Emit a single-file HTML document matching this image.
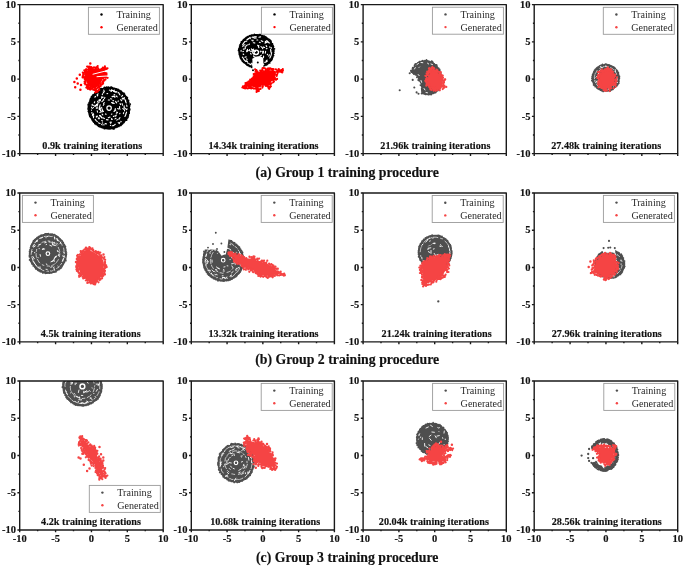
<!DOCTYPE html>
<html><head><meta charset="utf-8"><style>
html,body{margin:0;padding:0;background:#fff;}
svg{display:block;will-change:transform;}
.tk{font:bold 10.5px "Liberation Serif",serif;fill:#111;stroke:#111;stroke-width:0.15px;}
.lb{font:bold 10.2px "Liberation Serif",serif;fill:#111;stroke:#111;stroke-width:0.15px;}
.lg{font:10.1px "Liberation Serif",serif;fill:#2a2a2a;}
.cap{font:bold 13.8px "Liberation Serif",serif;fill:#111;stroke:#111;stroke-width:0.15px;}
</style></head><body>
<svg width="685" height="567" viewBox="0 0 685 567">
<defs><clipPath id="c00"><rect x="19.7" y="4.6" width="143.5" height="149"/></clipPath><clipPath id="c01"><rect x="191.3" y="4.6" width="143.1" height="149"/></clipPath><clipPath id="c02"><rect x="363.1" y="4.6" width="143.2" height="149"/></clipPath><clipPath id="c03"><rect x="534.2" y="4.6" width="143.5" height="149"/></clipPath><clipPath id="c10"><rect x="19.7" y="193" width="143.5" height="148.9"/></clipPath><clipPath id="c11"><rect x="191.3" y="193" width="143.1" height="148.9"/></clipPath><clipPath id="c12"><rect x="363.1" y="193" width="143.2" height="148.9"/></clipPath><clipPath id="c13"><rect x="534.2" y="193" width="143.5" height="148.9"/></clipPath><clipPath id="c20"><rect x="19.7" y="381" width="143.5" height="149"/></clipPath><clipPath id="c21"><rect x="191.3" y="381" width="143.1" height="149"/></clipPath><clipPath id="c22"><rect x="363.1" y="381" width="143.2" height="149"/></clipPath><clipPath id="c23"><rect x="534.2" y="381" width="143.5" height="149"/></clipPath></defs>
<rect width="685" height="567" fill="#fff"/>
<ellipse cx="109.1" cy="108.1" rx="20.6" ry="20.7" fill="#000" clip-path="url(#c00)"/>
<path d="M129.2 108.1h0M129.7 108.9h0M129.8 109.7h0M129.3 110.4h0M129 111.1h0M129.2 111.9h0M129.2 112.7h0M129.2 113.5h0M128.3 114.1h0M128.1 114.8h0M128.4 115.7h0M128 116.4h0M128 117.2h0M127.5 117.9h0M126.8 118.4h0M126.4 119h0M126.7 120.1h0M125.5 120.3h0M124.9 120.8h0M124.4 121.3h0M124.2 122.1h0M123.6 122.7h0M123 123.1h0M122.5 123.7h0M121.9 124.3h0M121.4 124.8h0M120.8 125.4h0M120 125.6h0M119.1 125.5h0M118.8 126.5h0M117.8 126.3h0M117.3 126.9h0M116.4 126.9h0M115.9 127.5h0M115.1 127.6h0M114.4 128.1h0M113.9 129.1h0M112.9 128.3h0M112.2 128.7h0M111.4 128.2h0M110.6 128.6h0M109.9 128.9h0M109.1 128.7h0M108.3 128.8h0M107.6 128.7h0M106.8 128.3h0M106 128.6h0M105.3 128.1h0M104.4 128.7h0M103.8 127.9h0M103 128h0M102.3 127.5h0M101.5 127.5h0M101 126.8h0M100.1 126.9h0M99.5 126.3h0M98.7 126.3h0M98.1 125.7h0M97.5 125.2h0M97.1 124.5h0M96.2 124.4h0M95.6 123.8h0M94.8 123.6h0M94.7 122.6h0M93.9 122.2h0M93.4 121.6h0M93 121h0M92.6 120.4h0M92.1 119.7h0M91.9 119h0M91.6 118.2h0M91.1 117.7h0M90.5 117.1h0M89.9 116.5h0M89.7 115.7h0M89.5 115h0M89.3 114.2h0M89.1 113.5h0M89.1 112.7h0M88.7 112h0M88.3 111.2h0M88.8 110.4h0M88.9 109.6h0M88 108.9h0M88.5 108.1h0M88.3 107.3h0M88.4 106.5h0M89.1 105.8h0M88.1 104.9h0M88.4 104.2h0M89.1 103.5h0M89.1 102.7h0M89.5 102h0M90 101.4h0M90 100.6h0M90.2 99.8h0M90.3 99h0M90.8 98.4h0M91.3 97.8h0M91.4 96.9h0M92.3 96.6h0M92.4 95.7h0M92.8 95h0M93.6 94.7h0M94.5 94.5h0M94.8 93.7h0M95.1 92.9h0M95.6 92.4h0M96 91.6h0M97.1 91.8h0M97.5 91.1h0M98.1 90.5h0M98.9 90.3h0M99.8 90.5h0M100.1 89.3h0M100.6 88.6h0M101.5 88.6h0M102.4 88.9h0M103.1 88.5h0M103.8 88.1h0M104.4 87.3h0M105.3 87.7h0M106 87.7h0M106.8 87.2h0M107.6 87.6h0M108.3 87h0M109.1 87.7h0M109.9 87.7h0M110.6 87.3h0M111.4 87.2h0M112.2 87.5h0M112.9 87.8h0M113.5 88.5h0M114.4 88.4h0M115.1 88.6h0M115.8 88.8h0M116.7 88.8h0M117.3 89.3h0M118.1 89.3h0M118.7 89.9h0M119.3 90.3h0M120 90.6h0M120.7 91h0M121.4 91.3h0M121.8 92.1h0M122.4 92.5h0M122.8 93.3h0M123.9 93.2h0M124.4 93.8h0M124.6 94.7h0M125 95.3h0M125.3 96.1h0M126.1 96.5h0M126.5 97.1h0M127.4 97.5h0M127.3 98.4h0M127.4 99.3h0M127.2 100.2h0M128.6 100.4h0M128.5 101.3h0M128.2 102.2h0M129 102.8h0M128.6 103.6h0M130.3 104.1h0M129.7 105h0M129.6 105.8h0M129.5 106.6h0M129 107.4h0" stroke="#000" stroke-width="1.7" stroke-linecap="round" fill="none" clip-path="url(#c00)"/>
<path d="M114.4 90.1L113.4 91.5M93.7 116.3L93.4 117.8M97.4 102L98 101M122.6 95.3L121.7 96.3M116.4 96L116.7 96M111.2 122.2L110.7 123.4M119.6 108.7L120.1 109.1M115.9 102.1L116.4 102.6M101.2 111.8L99.8 112.4M102.7 122.9L102.3 123.1M126 102.2L126.2 102.9M111.6 118.6L111.6 119.5M118.4 92.7L119.4 93.4M126.6 112.1L126.2 113.4M112 96.6L112.3 96.6M115.6 116L115.7 116.3M114.5 91.4L115.9 92.4M117.7 108.5L118.5 109M99.7 106.6L100.1 104.9M118.2 122.7L119.4 123.7M95.8 120.1L95.2 119.4M91.5 107.2L92.3 108.5M112.9 102.8L114.3 103.4M96.1 105.8L96.5 104.3M119.4 94.3L120 94.8M108.1 119.9L106.4 119.6M125.9 114.5L125.3 115.8M100.5 110.6L100.1 108.9M102.5 93.8L102.3 94.7M92.6 114.2L92.4 115.3M116.3 96.3L117.2 96.9M99 100.2L99.4 99.7M94.8 106.5L94.9 105.4M99 118.8L98.2 118M97.3 105.7L97.8 103.9M122.1 103.6L122.5 105.2M102.1 110.4L102.2 111.9M103.5 111.4L103.3 111.2M115.3 124.3L114.8 124.5M102.1 118L101.2 117.3M101.6 107.9L101.7 107.3M98.7 117.8L99.5 118.3M92.2 104.7L92.3 104.2M111.3 122L109.9 122.2M101.6 124.3L102.2 124.8M120.8 121.3L121.2 121.7M125.6 101.1L126 102.1M101.9 101.7L103 100.7M114.8 96.2L114.4 96.9M91.5 110.2L91.5 110M122.6 98.3L123.2 99.1M111.6 102.5L113.1 103.5M115.8 110L114.5 111.2M112.4 119.3L111.6 119.5M97.6 112.2L97.2 110.9M114.3 116L113.4 116.5M103.8 90.1L104.3 91.6M124.1 105.7L124.2 107.2M112.9 90.2L111.5 90.6M111.5 89.8L110.6 90.9M115.6 101.4L116.7 102.8M104.1 124.9L103.6 124.8M116.7 112L117.5 112.7M99.6 100.6L100.5 99.5M97.1 108.4L97.2 107M99.3 108.5L99.4 106.7M97 94.9L98.1 93.9M126.5 112.3L126 113.9M100.4 108.9L100.3 107.8M95.1 105.3L95.8 106.2M106.4 123.9L105.1 123.6M103.3 105.3L104 104.3M125.8 113.5L125.7 114.2M112.4 96.3L112.8 96.7M126.7 105L126.9 106.5M103.6 103.3L104.3 102.7M117.4 119.6L116.8 120.1M98.7 102.7L99.2 101.9M124 107.3L125.2 108.5M110.5 98.7L111.7 99M104.9 97.4L104.5 98.4M110 117.1L108.3 117.8M121.4 100.3L121.6 100.7M99.2 109.5L99.1 108.7M119.9 113.3L119.7 113.7M110.9 91.1L111.3 91.5M101.9 96.5L101.6 98.3M93.2 116.3L92.9 115.6M114.6 110.6L114 111.5M127 108.8L126.9 109.5M103.2 92L103.8 92.9M103.4 99.4L103.8 100M122.2 98.1L122.9 99.1M92 112.6L91.6 113M112.1 102.5L112 102.7M97.3 121.6L96.7 121.1M117.1 112.7L116.3 113.2M115 91.7L114.7 91.9M108.3 100L109.5 100M123.9 97.9L124.3 98.6M113.2 96.1L113.9 96.4M125.4 115.5L124.9 116.5M98.6 122.7L98.8 122.7M124.6 110.1L124.5 110.9M116 118.3L115 118.9M100.2 116.3L99.5 115.5M107 93.6L107.7 93.5M109.5 90.1L109.4 90.2M111.9 114L111.4 114.2M93.7 114.9L93.1 113.4M125.7 100.6L125.5 101.8M97.6 116.1L96.3 117.2M112.5 125.8L112.2 125.8M95.3 119.6L96 120.4M110.4 125.3L110.5 125.5M94.9 97.2L95.2 96.8M116.4 115L115.4 115.9M123.7 112.6L123.4 113.6M119.9 122.5L119.5 122.7M91.9 105L93.4 105.4M93.4 107.6L93.4 107.4M114.2 125.3L113.2 125.6M112.9 100.6L113.6 100.8M102.8 97.4L103.1 97.2M102.5 110.6L102.1 108.9M126 109.2L126.6 109.7M122.8 108.5L124.2 109.6M101.3 116.6L100.6 115.8M97.5 104L97.7 103.7M120.1 103.5L120.5 104.6M114.6 97.1L115 97.3M97.4 95.8L97.7 95.5M115.3 108.5L115 110.2M98.7 122.9L100 123.5M106.1 114.3L105.4 113.9M100.1 100.8L100.5 100.2M119.6 106.6L119.6 107.7M102.8 114.9L102.1 114.2M95.6 96.4L95.2 96.6M96.7 108.1L96.2 108.1M118.4 92.4L118.2 92.9M104.4 118.6L102.9 117.8M120 117.7L118.8 119M94.3 102.7L94.7 101.7M115.9 91.5L117 92M118.5 101L118 101.3M114.1 94.6L114.9 94.9M124.9 99.6L125.7 101.2M124.4 97.7L123.6 98.5M100.6 116.2L99.9 115.4M119.3 118.8L118.8 119.2M112.9 90.5L113.7 90.8M96.7 116.8L96.3 116.2M120.5 99.7L121.7 100.2M102.6 121L101.7 120.5" stroke="#fff" stroke-width="1.1" stroke-linecap="round" fill="none" clip-path="url(#c00)"/>
<circle cx="109.1" cy="108.1" r="2.2" fill="none" stroke="#fff" stroke-width="1.2" clip-path="url(#c00)"/>
<circle cx="109.1" cy="108.1" r="0.9" fill="#000" clip-path="url(#c00)"/>
<path d="M90 67.7C90.7 67.8 92.3 68.1 93.8 68.3C95.4 68.5 97.6 68.6 99.3 68.7C101 68.8 103.2 69 104.1 69C105 69.1 104.7 68.6 104.7 69C104.6 69.3 103.9 70.3 103.9 71.1C103.9 71.9 104.6 72.9 104.7 73.8C104.9 74.7 105.3 75.6 105 76.5C104.6 77.4 103.3 78.2 102.5 79.4C101.8 80.5 101.1 82.4 100.5 83.4C99.9 84.5 99.6 84.8 98.9 85.6C98.1 86.3 96.4 87.1 95.9 87.9C95.5 88.6 96.7 90.1 96.2 90.2C95.8 90.2 94.4 88.9 93.2 88.3C91.9 87.7 89.8 87.2 89 86.6C88.1 86 88.3 85.9 87.8 84.8C87.3 83.8 86.5 81.5 85.9 80.3C85.2 79 84.1 78.7 84.1 77.4C84.1 76.1 85.1 73.9 85.8 72.6C86.5 71.3 87.6 70.5 88.2 69.7C88.9 68.8 89.4 67.9 89.7 67.6C90 67.2 89.3 67.6 90 67.7Z" fill="#ff0000" clip-path="url(#c00)"/>
<path d="M90.4 67.2h0M91 67.7h0M91.4 67.3h0M91.5 67.4h0M92.4 68h0M93.6 67.5h0M94 67.3h0M95.4 67.5h0M95.9 68.3h0M97.1 66.9h0M97.2 67.7h0M97.4 67.1h0M97.8 68h0M98.2 68.6h0M101.6 68.9h0M102.2 68.6h0M102.9 67.5h0M103.1 68.8h0M103.7 69.4h0M103.8 69.3h0M105.1 68h0M105.2 68.9h0M105.1 69.2h0M105.6 68.1h0M106.5 69h0M105.2 68.3h0M104.5 67.8h0M105.6 69.3h0M105.5 69.3h0M104.4 69.9h0M103.3 71.3h0M104 72.1h0M104.1 73.4h0M105.4 73.2h0M105.1 73.4h0M104.8 73.9h0M106.5 73.3h0M106.5 74.7h0M106 74.7h0M106.4 75.6h0M105.1 76.3h0M105.2 76.7h0M106 77.5h0M105.7 77h0M104.3 76.6h0M104.8 76.9h0M103.3 78h0M104.9 79.6h0M103.9 80h0M103.5 80.6h0M103.1 81.2h0M103 81.8h0M102.7 82.2h0M102.2 82.4h0M102.1 84.3h0M100.6 84.5h0M100.4 83.9h0M101 84.8h0M100.7 85.9h0M99.1 86.1h0M98.5 85.4h0M97.8 87h0M97.5 87.8h0M96.5 88.5h0M96.2 89.3h0M95.6 90.3h0M97.1 90.9h0M96.6 91.5h0M96.5 92h0M96.6 91.7h0M96.6 91.2h0M96.8 90.8h0M96.4 90.4h0M96.6 90.8h0M95.9 89.2h0M95.6 89h0M94.3 89.9h0M93.8 89.5h0M93.2 89.7h0M92.5 88h0M92.6 87.7h0M91.2 88.9h0M90.6 89.4h0M90.6 87.8h0M89.7 88.1h0M88.9 88.8h0M88.8 88h0M88.5 87.4h0M88.5 87.5h0M88.6 87h0M88 87.3h0M87.3 86.7h0M88.5 86.2h0M87 86h0M87.4 86.2h0M87.2 84.7h0M85.3 84.4h0M85.4 82.8h0M85.7 81.9h0M84.6 81.7h0M85.6 81h0M85.8 79.5h0M84.7 79.1h0M85.4 78.5h0M84.8 77.9h0M84.2 77.6h0M83.4 77.4h0M82.6 77.4h0M84.5 77.3h0M83.6 77h0M82.7 76.3h0M83.1 75.7h0M83.2 74.3h0M85.3 74.5h0M85.6 73.9h0M84.2 72.6h0M85.5 72.9h0M85 72h0M85.6 71.4h0M86 70.3h0M86.6 71.2h0M86 69.4h0M86.9 69.9h0M86.6 69.3h0M88.7 69.1h0M88.7 67.6h0M88 66.7h0M89.8 67.5h0M89.8 67.6h0M89.4 67.9h0M89.7 66.6h0M89.5 66.8h0M89.5 66.9h0M97.7 66.1h0M104.9 66.4h0M107.5 68.3h0M107.6 77.8h0M105.5 79.5h0M104.4 80.4h0M103.3 81.8h0M103.1 83.6h0M99.3 87.9h0M95.3 92.4h0M90.1 89.6h0M87.8 88.8h0M86.3 87.6h0M84.6 83.3h0M82.8 72.6h0M84.3 70.3h0M85.9 69.5h0M87.1 66.6h0" stroke="#ff0000" stroke-width="2.2" stroke-linecap="round" fill="none" clip-path="url(#c00)"/>
<path d="M74.4 82.1h0M77.7 83.6h0M75.2 87.2h0M80.4 89.8h0M79.8 74.8h0M76.8 78.5h0M81 85h0M90.3 63.6h0M97.5 91.5h0M99 90h0" stroke="#ff0000" stroke-width="2.5" stroke-linecap="round" fill="none" clip-path="url(#c00)"/>
<path d="M93 74.2L100 72.4L107.8 70.5M97 76.7L102 76.3L107.8 76" stroke="#fff" stroke-width="1" fill="none" stroke-linecap="round" clip-path="url(#c00)"/>
<ellipse cx="256.4" cy="51.1" rx="17.5" ry="16.5" fill="#000" clip-path="url(#c01)"/>
<path d="M273.9 51.1h0M273.7 51.8h0M273.3 52.5h0M273.9 53.3h0M273.1 53.9h0M273 54.6h0M273.6 55.5h0M273 56.1h0M272.9 56.9h0M272.3 57.4h0M272.3 58.2h0M272.2 59h0M271.7 59.6h0M271.5 60.3h0M270.7 60.8h0M270.2 61.3h0M269.4 61.6h0M269.7 62.9h0M268.5 62.8h0M268.1 63.4h0M267.5 63.9h0M267 64.6h0M266.4 64.9h0M265.3 64.8h0M264.8 65.4h0M264.1 65.7h0M263.3 65.7h0M263 66.9h0M262.1 66.7h0M261.4 67.1h0M260.6 67.1h0M259.9 67.5h0M259.1 67.4h0M258.4 67.7h0M257.6 67.7h0M256.8 67.4h0M256 67.8h0M255.2 67.6h0M254.5 67.4h0M253.8 67h0M253 67h0M252.1 67.4h0M251.4 67.1h0M250.8 66.5h0M250 66.4h0M249.2 66.3h0M248.7 65.6h0M247.9 65.5h0M247.2 65.2h0M246.7 64.6h0M246.1 64.1h0M245.6 63.6h0M245 63.1h0M244.4 62.7h0M243.7 62.3h0M243.2 61.8h0M242.7 61.2h0M242.1 60.7h0M242.2 59.8h0M241.4 59.4h0M241 58.8h0M240.6 58.2h0M240.4 57.5h0M240 56.8h0M240 56.1h0M239.9 55.3h0M239.5 54.7h0M239.2 54h0M239.3 53.3h0M239.1 52.5h0M239.1 51.8h0M239.1 51.1h0M238.5 50.4h0M238.8 49.6h0M238.8 48.9h0M239.3 48.2h0M239.5 47.5h0M239.8 46.8h0M239.6 46h0M240.1 45.4h0M240.1 44.6h0M240.9 44.1h0M240.9 43.4h0M241.4 42.8h0M241.3 41.8h0M242.3 41.6h0M242.6 40.9h0M243.2 40.4h0M243.5 39.7h0M244.3 39.4h0M244.8 38.8h0M245.3 38.3h0M245.9 37.8h0M246.4 37.3h0M247.2 37.1h0M247.8 36.5h0M248.6 36.3h0M249.2 36h0M250 35.7h0M250.8 35.8h0M251.4 35.1h0M252.2 35.1h0M253 35h0M253.7 35h0M254.4 34.4h0M255.3 35.2h0M256 34.8h0M256.8 34.9h0M257.5 34.8h0M258.2 35.4h0M259.1 34.5h0M259.9 34.5h0M260.7 34.7h0M261.3 35.4h0M262 35.6h0M262.7 35.9h0M263.4 36.2h0M264.4 36.1h0M264.9 36.8h0M265.7 36.8h0M266.3 37.4h0M266.6 38.2h0M267.5 38.3h0M267.9 39h0M268.8 39.1h0M269.3 39.7h0M270.1 40h0M270.2 40.9h0M271.1 41.2h0M270.9 42.2h0M271.3 42.8h0M271.6 43.5h0M272.5 43.9h0M272.4 44.8h0M273 45.3h0M273.2 46h0M273.5 46.7h0M273.1 47.5h0M272.9 48.3h0M274.5 48.8h0M273.6 49.7h0M273.8 50.4h0" stroke="#000" stroke-width="1.7" stroke-linecap="round" fill="none" clip-path="url(#c01)"/>
<path d="M256.9 40L257.8 40M262.8 52.4L262.5 53.3M271.7 52.8L271.3 53.7M255.2 54.6L255 54.6M242.8 46.6L243.4 45.3M267.4 41L268.2 41.9M243.1 54L243.7 54.5M267.9 41.3L267.4 41.4M262.5 48.2L262.8 48.8M253.1 40.3L252.8 41M266.1 45.6L266.7 46.6M255.8 50.8L255.5 51.4M251.5 51.1L250.4 51.2M267.5 54.2L267.3 54.8M256.9 64.9L255.1 64.9M245.2 46.3L245.3 48.2M241.1 51.2L241.1 50.4M255.2 57L253.8 56.6M257.5 45.3L258.9 45.8M262.6 63.4L263.8 64.6M253.8 50.5L253.5 51.3M246.8 39.7L247.1 39.8M250.9 64.3L250.5 64.7M267.1 60.2L266 61.2M260.6 36.9L258.9 37.2M247.1 59.4L246.6 58.8M261.4 55.1L261.1 55.5M251.8 40.2L252 40.1M253.8 56L253.5 55.9M252.4 63.7L251.4 63.3M249.4 50.7L249.5 49.6M255.6 36.7L256.2 36.6M247.4 61.5L246.7 60.9M267 48.4L266.3 48.7M263 47.1L264.6 47.5M246.2 56.9L244.9 57.2M243.1 44.1L243.5 43.2M260.7 55.7L259.7 56.4M242.7 44.6L243.7 43M271 55.6L270.2 57.4M255.4 58.7L257.2 58.7M266.8 40.6L265.3 41.8M258.2 65.5L256.5 65.6M251.4 48.8L251.6 49.4M253.9 36.8L255.2 36.7M251.2 64.7L249.4 63.9M265.6 51.4L265.3 53.1M254.6 38.1L256.3 38M254.2 54.1L253.5 53.5M249.5 44L248.8 44.6M266 42.8L265 43.1M243.5 58.9L244.4 60.1M248.2 38.5L247.5 39.7M252.8 51.2L253.2 49.3M248.2 63.3L247.4 62.8M259.1 62.3L258.2 62.5M263.4 47L263.2 47.2M247.3 44.8L246.3 45.8M254.5 42.8L253.3 42.8M269.7 46.7L269.9 47.4M243.4 51.4L242.9 51.6M259.3 42.3L260.2 42.6M245.2 48.8L243.3 49.1M270.2 57.4L269.8 58M254.3 61.6L255.2 61.6M265.5 62.2L264.8 62.4M263.5 51.2L263.2 53.1M257.6 53.7L257.4 53.8M252.4 64.3L252.8 65M263.3 51.3L263 53.1M246.9 50.4L246.6 51.2M271.2 47.5L271.4 48.3M261.2 40.7L262.8 41.6M259 64.6L260.3 65.8M254.6 43L254.8 43.1M244.7 44.9L244.9 44.6M243.5 43.3L244.6 41.9M252.3 49.9L252.4 49.6M250.2 64.3L249.2 63.8M271 50.5L270.9 52.3M260.4 51.1L260.3 51.9M263.6 56L263.5 57.8M253.2 37.8L253.8 37.7M255.8 61.4L254.8 61.4M253.2 64.9L252.9 65.5M254.2 61.6L253.6 61.5M250.1 37.2L250.3 38.6M267.2 41.9L265.4 42.9M251.1 54.2L250.6 53.2M247.3 51.2L247.5 49.2M253.7 54.1L252.8 53.1M270.6 49.3L270.7 51.1M269.3 54.8L268.8 56.2M248.2 50.6L246.7 51.7M245 41.5L244.8 41.6M253.1 58.7L253 59.2M260.1 57.6L258.6 58.2M262.8 58L262.4 58.4M261 46.5L261.9 47.5M268.1 42.4L269.6 43M245.6 61.4L244.5 60.2M246.9 39.8L247.6 39.2M253.3 49.6L253.7 49.1M254.9 59.7L253.3 59.3M249.4 37.9L248.6 39M251.5 51.2L252.4 51.4M246.6 61.3L246.1 60.8M260.5 63.7L260.3 63.8M245.7 41.2L246.7 41.3M267.2 61.3L266.5 61.9M262 59.7L262.4 60.5M261.1 58L260.8 58.2M271.3 54.5L270.8 56.1M271.3 54.3L271.2 54.7M252.8 52.7L252.6 52.4M258.3 46.3L258.9 47.8M261.7 51.3L262.4 51.3M242.4 57.2L243.4 58.5M252 37.3L252.8 37M271.3 54.4L271.1 55.1" stroke="#fff" stroke-width="1.1" stroke-linecap="round" fill="none" clip-path="url(#c01)"/>
<path d="M252.4 70L252.4 59.6C253 58 254.5 56.8 258.4 56.3C261 56.2 263 57 263.3 59.6L263.5 70Z" fill="#fff" clip-path="url(#c01)"/>
<circle cx="256.3" cy="52.3" r="2.2" fill="none" stroke="#fff" stroke-width="1.3" clip-path="url(#c01)"/>
<path d="M257.8 62.4h0M253 70.2h0M263 68.2h0" stroke="#000" stroke-width="2" stroke-linecap="round" fill="none" clip-path="url(#c01)"/>
<path d="M257 71.7C257.7 71.3 258.7 72 260.4 71.8C262.1 71.5 265.5 70.2 267.5 70C269.5 69.8 270.8 70.1 272.6 70.4C274.4 70.7 276.9 71.5 278.4 71.7C279.8 71.9 281.3 72 281.5 71.6C281.7 71.2 280.3 69.3 279.3 69.6C278.3 69.9 276.1 72 275.4 73.4C274.7 74.8 275.4 76.8 274.9 77.9C274.4 79 273.3 79.1 272.4 80.2C271.5 81.4 269.9 83.7 269.4 84.8C268.9 85.8 269.8 86.6 269.2 86.5C268.6 86.4 267.4 84.1 265.8 84.1C264.3 84.1 261.3 85.7 259.9 86.6C258.4 87.5 258.1 89.5 257.3 89.6C256.5 89.8 256.2 87.9 254.9 87.4C253.6 86.8 251.1 86.7 249.3 86.5C247.4 86.3 244.4 85.8 243.7 86.2C243 86.5 244.2 89.2 244.9 88.7C245.6 88.3 246.9 85.1 248.1 83.6C249.4 82 251 80.8 252.4 79.3C253.8 77.8 255.5 75.8 256.3 74.6C257 73.3 256.3 72.2 257 71.7Z" fill="#ff0000" clip-path="url(#c01)"/>
<path d="M256 70.2h0M256.4 70.1h0M256.7 71h0M257 71.6h0M257.4 71.4h0M260.2 70.7h0M260.8 71.8h0M261.6 71h0M262 70.5h0M262.3 69.7h0M263.5 71.3h0M265.2 68.6h0M265.7 70.5h0M266.2 69.5h0M267.4 69.1h0M267.7 68.7h0M268 70h0M269 68.3h0M269.7 69.1h0M270.1 68.4h0M271.3 68.8h0M272.3 69.2h0M272.4 70.3h0M272.8 69.7h0M273.5 69.2h0M273.7 71.5h0M275.8 69.3h0M276.5 69.6h0M277.7 71.2h0M278.1 71.9h0M280.7 70.3h0M281.2 70.7h0M281.6 70.9h0M282.2 72.5h0M282.4 72h0M282.9 70.6h0M281 71.3h0M281.3 70.1h0M279.8 70.8h0M278.8 69h0M277.4 70.5h0M278 72.1h0M277 71.9h0M277.6 72.9h0M274.8 73.4h0M277.1 74.7h0M276.1 75.1h0M276.6 75.9h0M274.9 77.9h0M274.9 78.4h0M274.8 77.9h0M274.3 77.4h0M275.7 79.5h0M274.8 79.2h0M273.6 79.1h0M272.8 79.9h0M273.9 81.4h0M273.3 82.2h0M271.5 83.3h0M271.2 83.6h0M270.3 83.3h0M270.4 84.4h0M269.4 84.1h0M270.9 86.3h0M270 87.3h0M268.6 87.2h0M269.2 87.8h0M268.8 87.2h0M269 86.5h0M269.2 87h0M270 87.1h0M268.7 88.3h0M268 86.8h0M268.4 86.8h0M267.3 86.2h0M267.1 84.7h0M265.7 85.4h0M265.1 84.1h0M264 84.6h0M262.8 86.3h0M262.3 86.2h0M262.4 87.6h0M259.9 86.4h0M260.5 88.9h0M258.6 89.2h0M259 89.6h0M257.5 90.8h0M256.9 89.5h0M256.4 89.7h0M257.2 91.1h0M258.5 89.3h0M255.9 88.5h0M254.1 88.6h0M253.4 88.3h0M252.3 88h0M251.7 87.8h0M251.2 88.5h0M250.8 86.2h0M249.8 88h0M250.2 86.9h0M249.1 87.7h0M248.2 88h0M248.4 86.1h0M247.8 88.4h0M246.6 88.1h0M246.6 86.1h0M245.9 87.6h0M245 85.7h0M245.2 87.4h0M244 87.9h0M243.9 86.5h0M244 87.6h0M245.1 88.4h0M243.8 88h0M245.1 88.4h0M244.1 87.2h0M245 87.2h0M244.9 87h0M245 87.1h0M245.2 86.1h0M246.3 86.4h0M245.5 85.1h0M245.7 84.4h0M246.2 84.4h0M247 84.5h0M248.4 84.2h0M247.1 82.6h0M249.1 83.5h0M248.5 81.7h0M249.4 81.6h0M249.5 81.4h0M249.8 81.1h0M250.4 80.4h0M250.2 79.5h0M251.4 80.8h0M251.5 79.7h0M252.7 79.9h0M252 78.5h0M253.4 78.9h0M253.2 77.9h0M253.7 77.9h0M254.1 77.8h0M253.6 76.3h0M254.2 75.9h0M254.4 75.8h0M255.3 75.8h0M255.5 74.9h0M256.3 75h0M256 73.7h0M256.1 73.8h0M257.4 73.1h0M255.6 71.4h0M256.3 70.7h0M256.7 71.4h0M255.1 69.3h0M262.5 68.3h0M263.8 67.8h0M278.9 69.5h0M282.8 69.2h0M282.6 70.5h0M281.1 72h0M279.3 71.7h0M277.1 74.7h0M277.1 78.9h0M276 79.8h0M269.2 88.8h0M265.7 85.8h0M258.8 91.1h0M256.6 91.9h0M245.9 88h0M244.7 88h0M242.4 87.5h0M243 86.4h0M245.5 83.1h0M253.7 74.1h0M254.9 73.6h0" stroke="#ff0000" stroke-width="2.2" stroke-linecap="round" fill="none" clip-path="url(#c01)"/>
<path d="M411.6 71.3C411.5 70.6 412 70 413 68.7C413.9 67.4 416.2 64.8 417.4 63.7C418.6 62.6 419.1 62.6 420.3 62.3C421.6 61.9 423.2 61.6 424.7 61.6C426.3 61.6 428 61.6 429.6 62C431.2 62.5 432.9 63.6 434.3 64.6C435.7 65.6 437 66.6 438 68.1C439 69.5 439.9 71.3 440.3 73.3C440.8 75.3 440.9 77.9 440.8 80C440.7 82 440.4 83.9 439.9 85.6C439.3 87.3 438.6 89 437.6 90.2C436.5 91.4 435.2 92.2 433.5 92.9C431.9 93.5 429.4 93.9 427.9 94.1C426.3 94.3 425.2 94 424.3 93.8C423.4 93.6 422.9 93.6 422.6 92.9C422.2 92.2 422.6 91.4 422.4 89.8C422.2 88.2 422.2 85.6 421.4 83.3C420.7 81.1 419.2 78 418 76.3C416.7 74.5 414.8 73.7 413.8 72.9C412.7 72 411.7 72 411.6 71.3Z" fill="#4e4e4e" clip-path="url(#c02)"/>
<path d="M411.2 71.8h0M411.7 71h0M410.9 70.7h0M412.3 70.3h0M412.3 69.9h0M412.9 68.7h0M413.2 68.8h0M412.8 68h0M412.8 67.6h0M414 67.3h0M414.4 67.1h0M414.8 66.7h0M414.7 66.1h0M414.7 65.1h0M415.2 64.7h0M415.1 64.4h0M416.4 65h0M416.7 64.6h0M416.7 63.9h0M417.3 64.3h0M417.7 63h0M418.5 63.6h0M418.1 63h0M419 62.8h0M418.9 62.1h0M419.8 62.6h0M419.6 61.7h0M420.3 61.7h0M420.9 61.8h0M421.8 61.6h0M422.2 61.8h0M422.1 61h0M423.1 61.5h0M423.5 61.1h0M423.7 61.4h0M424.7 62h0M424.8 61.7h0M424.8 61.1h0M425.7 60.8h0M426.2 61.1h0M426.7 60.9h0M427.1 61.9h0M427 62.4h0M427.9 60.8h0M428.2 62.2h0M429.2 61.5h0M430.2 62.1h0M430.3 62.2h0M430.6 62.9h0M431.2 62.1h0M431.9 63.3h0M432.1 63.1h0M432.7 63.2h0M433.2 62.9h0M433.5 63.8h0M433.9 63.8h0M433.7 64.6h0M434 64.6h0M435.1 64.6h0M435.1 65.3h0M435.3 65.4h0M435.6 65.7h0M435.7 66.4h0M436.7 66.4h0M436.9 66h0M437 67.4h0M436.9 67.3h0M437.3 67.1h0M438.4 68.1h0M438.1 68.4h0M438.8 68.3h0M438.5 68.6h0M439.6 69.4h0M439.1 69.7h0M439.8 70.2h0M439.5 70.5h0M439.6 70.9h0M439.7 71.6h0M439.8 72h0M440.2 72.7h0M439.7 73h0M439.8 73.7h0M440.6 73.8h0M440.6 73.9h0M440.8 75.1h0M440.7 76h0M441.3 76.2h0M441.1 76.3h0M441.8 77.6h0M441 77.5h0M441 78.2h0M441.8 77.9h0M440.8 79.1h0M441.3 79.5h0M441.4 79.8h0M441.6 80.9h0M441.6 81.9h0M440.6 82.8h0M440.8 82.7h0M439.5 83.1h0M440.2 83.1h0M440.7 83.7h0M440.5 84.8h0M439.9 84.8h0M439.6 85.8h0M440.2 86h0M438.9 86.6h0M439.4 86.8h0M438.6 87.4h0M438.6 88h0M439.1 88.3h0M438 88.5h0M438.3 88.8h0M437.8 89.6h0M437.9 90.2h0M437.8 90.6h0M436.7 91h0M436.5 91.2h0M436.3 91.6h0M436 92.1h0M435.6 91.8h0M435.6 92.5h0M434.5 92.6h0M434.5 92.4h0M433.9 93h0M433.4 93.3h0M433.7 93.2h0M432.7 92.4h0M432.3 93.2h0M431.6 93.1h0M431.7 93.9h0M430.7 94.4h0M430 94.1h0M429.8 93.9h0M428.8 94.7h0M428.6 94.1h0M427.9 94.4h0M427.4 93.8h0M426.4 94.1h0M425.8 94.4h0M425.7 93.2h0M424.8 94.1h0M425 94.2h0M424.3 93.5h0M423.1 93.6h0M423.1 93h0M422.3 93.2h0M423.1 92.9h0M422 93.4h0M422.5 92.6h0M422 92.6h0M422.5 92.6h0M422.4 91.9h0M422 91.5h0M421.9 91h0M422.8 90.2h0M421.8 89.7h0M422.5 89.4h0M421.7 88.4h0M422.1 87.8h0M422.1 87.7h0M422 86.8h0M421.6 86.3h0M422.5 86h0M422.6 85.6h0M421.7 85h0M421.7 83.9h0M422.1 83.6h0M421.7 82.3h0M420.9 82.8h0M420.6 81.9h0M420.7 81.4h0M420.5 80.8h0M420 80.8h0M420.4 80h0M420.3 79.4h0M419.5 79.3h0M419.6 79h0M418.6 78.2h0M418.7 77.5h0M418.8 76.4h0M418 76.7h0M417.9 76.4h0M417.2 76h0M417.1 75.2h0M417 74.7h0M415.8 74.8h0M416.2 74.4h0M415.3 74.5h0M415 73.6h0M413.8 74h0M414.2 72.7h0M413.9 72.9h0M412.9 73h0M412.4 72.2h0M412 71.8h0M411.9 71.6h0M411.3 71.9h0M412.5 68.3h0M413.9 67.6h0M414.5 65.3h0M415.4 64h0M422.8 60.6h0M424.9 60.6h0M426.5 59.9h0M429.9 62.1h0M431.6 61.2h0M432.5 61.7h0M434.3 63.9h0M436.6 65h0M440.9 73h0M441 75.7h0M441.1 80.1h0M439.1 89.4h0M435.2 92.4h0M431.2 94.5h0M421.6 93.6h0M420.4 85.1h0M419.4 80.9h0M418.2 80h0M416.9 77.3h0M411.5 72.2h0" stroke="#4e4e4e" stroke-width="1.8" stroke-linecap="round" fill="none" clip-path="url(#c02)"/>
<path d="M399.7 90.2h0M412.7 79.9h0M414.3 87.5h0M416.6 92.4h0M409.7 73.3h0M418.5 93.8h0" stroke="#4e4e4e" stroke-width="2.1" stroke-linecap="round" fill="none" clip-path="url(#c02)"/>
<path d="M417 64.5l1.5-1M421 62.5l1.8 0.2M427.5 63.2l1.2 0.8M414.5 69l0.8-1.4M419 67.5l0.5-0.5M431 64l1.5 0.6M418.2 74.5l1 1.2M421 80.5l0.6 1.8M424 88.5l1 1.5M426 92.5l1.5 0.3" stroke="#fff" stroke-width="0.9" stroke-linecap="round" clip-path="url(#c02)"/>
<path d="M430.3 69.6C430.7 69.3 431.5 69.3 432.4 69.6C433.3 69.8 434.5 70.5 435.6 71.2C436.7 71.9 438.1 72.9 439 73.8C439.9 74.8 440 75.9 440.7 76.9C441.4 78 442.8 79 443.1 80.1C443.3 81.3 441.9 82.7 442 83.7C442.1 84.7 443.7 85.8 443.4 86.4C443 87 441.1 87 440 87.4C438.9 87.8 437.9 88.6 436.8 88.7C435.8 88.8 434.8 88.2 433.7 87.8C432.7 87.5 431.4 87.4 430.5 86.7C429.6 86 428.8 84.8 428.3 83.6C427.8 82.4 427.3 81.1 427.4 79.7C427.5 78.4 428.4 76.8 428.9 75.4C429.4 74 430.1 72.3 430.3 71.3C430.6 70.3 430 69.9 430.3 69.6Z" fill="#f54444" clip-path="url(#c02)"/>
<path d="M430.5 68.5h0M430 68.6h0M429.6 68h0M430.4 70h0M430.8 69.6h0M431.1 69.5h0M431.9 67.8h0M432.1 67.8h0M433.3 69.4h0M433.8 69.1h0M434.2 68.4h0M434.9 70.9h0M436.5 69.7h0M436.2 71.3h0M437.3 70.2h0M437.5 71.5h0M436.8 72.3h0M438.6 71.8h0M439.6 72.4h0M439.5 73.6h0M439.8 73.5h0M439.7 74.3h0M440.5 73.6h0M439.3 75h0M441.4 74.8h0M439.8 75.3h0M440.7 76h0M441.7 77.1h0M441.3 78h0M442 78.1h0M443 77.7h0M442.6 79.7h0M444.9 79.3h0M445.1 79.8h0M442.8 80.1h0M443.5 80.8h0M444 81.1h0M444 82.4h0M443.3 82.7h0M442.6 83h0M442.9 83.6h0M443.2 85.1h0M444.4 85.6h0M443.2 86.9h0M443.4 86.8h0M444.3 87.4h0M443.5 86.4h0M444.1 86.5h0M444.5 87.1h0M443.6 86.3h0M443.4 87.4h0M443.5 88.2h0M441.7 86.5h0M441.3 86.2h0M440.8 87.3h0M440.1 88.4h0M439.4 87.9h0M438.7 88.6h0M437.2 88.5h0M437.5 90.1h0M437.1 88.4h0M436.6 87.8h0M435.8 90.8h0M435.4 89.4h0M435.7 87.9h0M434.7 89.1h0M434 89.6h0M434.1 88.9h0M433.6 88.1h0M432.9 88.6h0M432.4 88.8h0M432.5 87.7h0M430.7 87.3h0M430.2 88.5h0M430.1 87h0M429.2 87h0M429 86.2h0M428.5 85.5h0M429.4 84.6h0M428.5 85.3h0M427.8 84.4h0M428.3 84.2h0M426.5 84.1h0M427.4 84.1h0M427.1 83h0M427.8 82h0M426.3 82h0M425.6 81.6h0M427.1 80h0M427.3 80.2h0M425.9 79.1h0M427.1 79.4h0M426.6 78.5h0M426.7 78.3h0M426.9 77.8h0M426.1 76.2h0M427 75.3h0M428.9 75.8h0M427.6 74.8h0M427.8 74.4h0M427.3 74.3h0M428.4 73.1h0M430.2 72.6h0M428.8 71.8h0M430.2 71.7h0M429 70.5h0M430.8 70.6h0M430.8 69.4h0M429.2 69h0M430 69.3h0M429.6 68.7h0M428.9 68.3h0M432.4 66.9h0M433.9 68.1h0M440.8 72.1h0M442.8 75.5h0M445.2 79.4h0M443.5 83.2h0M446.3 86.9h0M442.7 89.1h0M439.8 90.3h0M433.7 90.7h0M431.5 89.9h0M430.4 89.4h0M426.3 85.7h0M425.3 80.8h0M425.4 75.8h0M426.6 73.4h0M427.2 71.6h0" stroke="#f54444" stroke-width="2.2" stroke-linecap="round" fill="none" clip-path="url(#c02)"/>
<ellipse cx="605.8" cy="77.8" rx="13.5" ry="13.3" fill="#4e4e4e" clip-path="url(#c03)"/>
<path d="M619.4 77.8h0M619.4 78.6h0M618.9 79.3h0M618.7 80h0M618.9 80.8h0M619 81.6h0M618.4 82.2h0M618.8 83.2h0M617.5 83.4h0M617.9 84.5h0M617.2 84.9h0M616.9 85.7h0M616.4 86.2h0M615.7 86.6h0M615.1 87.1h0M614.4 87.4h0M613.9 88h0M613.3 88.5h0M613 89.3h0M612.1 89.3h0M611.5 89.9h0M610.8 90h0M610.3 91h0M609.3 90.3h0M608.6 90.4h0M607.9 91h0M607.1 90.4h0M606.4 91h0M605.6 90.7h0M604.9 90.7h0M604.1 90.8h0M603.2 91.4h0M602.5 90.9h0M601.8 90.7h0M601.1 90.3h0M600.4 90.1h0M599.9 89.4h0M599.1 89.3h0M598.5 88.8h0M597.7 88.6h0M597.1 88.2h0M596.9 87.2h0M596.4 86.7h0M595.3 86.7h0M595.4 85.6h0M594.4 85.4h0M593.6 85h0M593.6 84.1h0M593.5 83.3h0M593.3 82.5h0M593 81.9h0M592.6 81.2h0M591.8 80.6h0M592.3 79.7h0M592.5 78.9h0M591.9 78.2h0M592.4 77.4h0M592.1 76.6h0M592.5 75.9h0M592.6 75.2h0M592.6 74.4h0M593.1 73.8h0M593.5 73.1h0M593.6 72.4h0M593.9 71.7h0M594.4 71.1h0M594.5 70.3h0M595.1 69.7h0M595.5 69.2h0M596.2 68.7h0M596.6 68.1h0M597.1 67.5h0M597.9 67.2h0M598.5 66.8h0M599.1 66.3h0M599.7 65.9h0M600.5 65.8h0M601.1 65.2h0M601.8 65h0M602.5 64.4h0M603.4 65.2h0M604.1 65.1h0M604.8 64.5h0M605.6 64h0M606.4 64.3h0M607.1 64.6h0M607.8 65h0M608.6 64.8h0M609.3 65.2h0M610 65.5h0M610.8 65.5h0M611.4 66h0M612.1 66.3h0M612.7 66.7h0M613.4 67h0M614.2 67.3h0M614.7 67.9h0M615.3 68.3h0M615.5 69.1h0M615.9 69.8h0M616.7 70.1h0M617.1 70.7h0M617.7 71.3h0M617.5 72.2h0M618.4 72.6h0M618.4 73.4h0M618.3 74.2h0M618.7 74.9h0M618.9 75.6h0M619.5 76.3h0M619 77.1h0" stroke="#4e4e4e" stroke-width="1.7" stroke-linecap="round" fill="none" clip-path="url(#c03)"/>
<path d="M616.8 77.9L617.3 79L617 80L616.7 81M616 82.6L615.5 83.6L614.7 84.4L614.3 85.4L613.4 86.2M610.5 87.7L609.5 88.5L608.2 88.8M605 88.9L603.8 88.7L602.5 88.7L601.4 88M600 87.4L598.9 86.9L598 86.2L597.3 85.3L596.6 84.5M595.8 83L595 81.8L594.8 80.3M594.5 78.7L594.4 77.6L594.4 76.5L594.7 75.5M595 74.3L595.4 73.2L596.1 72.4L596.5 71.4L597.1 70.4M599.8 68.3L600.7 67.8L601.7 67.4L602.8 67.3L603.7 66.7M604.8 66.6L605.9 66.6L607.1 66.6L608.2 66.8M610.6 67.7L611.6 68.2L612.6 68.7L613.4 69.5M615 71.5L615.7 72.4L616.4 73.3L616.6 74.4M617.2 77.1L617 77.4L617.3 77.8" stroke="#fff" stroke-width="0.7" stroke-linecap="round" stroke-linejoin="round" fill="none" clip-path="url(#c03)"/>
<path d="M599 73.1L597.5 74.5M597.4 83.2L596.4 81.1M608.1 81.2L606.6 81.8M600.3 66.6L602.2 67.6M613.2 77.3L613.4 78.8M617.1 79.6L616.3 81.1M610.7 69.6L612.1 70.6M602.5 87.6L600.3 86.5M598.4 80L597.8 81.6M613.9 82.5L612.4 84.4M605.5 66L606.2 66.1M609.4 89L608.1 89.4M616.1 81.6L617.6 82.6M613 78.4L613.4 78.7M612.9 81.9L615 82.9M598.9 71L600.3 69.8M608.7 80.1L607.4 80.8M599 74.7L599.2 74.2M596.6 76.4L595.8 77.2M615.2 69.6L615.4 71.8" stroke="#fff" stroke-width="0.9" stroke-linecap="round" fill="none" clip-path="url(#c03)"/>
<path d="M614.9 79.7C614.9 80.4 614.4 81 614.3 81.7C614.2 82.4 614.4 83.3 614.3 83.8C614.1 84.4 613.7 84.5 613.3 84.9C612.9 85.3 612.4 85.8 611.9 86.2C611.4 86.6 610.7 87 610.3 87.4C609.8 87.8 609.6 88.2 609.2 88.4C608.7 88.6 607.9 88.3 607.3 88.4C606.8 88.6 606.1 89.3 605.7 89.3C605.3 89.4 605.3 89.2 604.8 88.9C604.4 88.7 603.6 88.1 603.1 87.8C602.6 87.6 602 87.5 601.6 87.2C601.2 86.8 601.1 86.3 600.9 85.8C600.6 85.2 600.4 84.5 600.2 83.9C600 83.2 600 82.6 599.9 81.8C599.9 81.1 599.9 80.1 599.9 79.3C599.8 78.5 599.5 77.7 599.4 77C599.4 76.3 599.5 75.7 599.7 75.1C599.8 74.5 600.2 73.9 600.4 73.4C600.7 72.9 600.8 72.5 601.2 72.3C601.6 72.1 602.3 72.2 602.9 72C603.5 71.8 604.2 71.3 604.8 71.1C605.4 70.9 606 70.8 606.6 70.7C607.1 70.6 607.7 70.4 608.2 70.3C608.6 70.3 609 70.4 609.4 70.5C609.8 70.6 610.1 70.7 610.5 71C610.8 71.4 611.1 72 611.6 72.6C612 73.2 612.7 74 613.2 74.4C613.6 74.9 614.2 74.8 614.3 75.3C614.5 75.8 614 76.8 614 77.5C614.1 78.3 614.8 79 614.9 79.7Z" fill="#f54444" clip-path="url(#c03)"/>
<path d="M615.7 79.6h0M615.5 81.1h0M615.6 82.2h0M614.8 82.9h0M615.8 84.2h0M615.2 84.2h0M614.2 83.7h0M615.3 85h0M614.3 84.5h0M613.2 85h0M612.4 84.8h0M611 85.9h0M611 88.2h0M610.5 87.5h0M609.9 87.9h0M609 87.4h0M609.3 89.1h0M609.5 89.6h0M609.4 88.6h0M606.6 90.3h0M606.9 90.5h0M605 89.3h0M604.7 89.2h0M605.5 90.9h0M606.2 89.4h0M604.7 90.1h0M605.4 89.2h0M603.7 90.2h0M604.3 88.6h0M604.3 87.9h0M603.7 88.4h0M602.7 88.1h0M601.7 87.9h0M601.6 86.9h0M601.1 87.1h0M600.9 87.4h0M600.6 86.8h0M600.9 85.8h0M599.4 85.7h0M601.2 84.9h0M599.4 84.7h0M600.4 83.9h0M599.5 84h0M599.9 82.8h0M600.3 82.5h0M598.2 82h0M598.4 81.7h0M599.6 81.7h0M599.5 80.3h0M598.9 79.3h0M598.7 77.8h0M597.3 77.9h0M597.8 76.8h0M599.6 76.7h0M599.7 76.4h0M599.5 75.8h0M597.9 75h0M597.9 74.8h0M599.6 74.7h0M600 74.4h0M600.4 73.6h0M599.7 72.4h0M599.3 71.6h0M599.9 71.4h0M600.9 71.2h0M600.7 71h0M602.4 72.2h0M601.9 70.5h0M604 71.2h0M603.8 70.7h0M604.2 70.8h0M604.5 69.9h0M605 69.4h0M606.4 70.7h0M606.7 70.5h0M607.2 69.3h0M608 70.7h0M608.1 69.5h0M608.8 68.9h0M609.3 69.7h0M609.9 69.9h0M609.8 69.6h0M610.4 69.5h0M610.7 69.8h0M611.3 69.3h0M610.9 70.6h0M611 70.5h0M610.6 71.7h0M611.4 71.3h0M611.7 72.4h0M612.9 71.7h0M612.9 73.1h0M613 74.4h0M614 75.1h0M614.4 74.7h0M613.6 76.1h0M615.3 74.6h0M613.9 74.9h0M614.4 74.9h0M614.3 75.3h0M614.9 76.2h0M614.1 77.2h0M615.3 79.4h0M615.3 80h0M616.5 79.7h0M616.5 81.5h0M615.8 86.5h0M613.6 88.2h0M609.7 91.1h0M598.4 87.2h0M598.1 84.2h0M597.7 77h0M598 72.1h0M601.8 69.4h0M606.4 68.8h0M607.7 67.4h0M617 77.4h0" stroke="#f54444" stroke-width="2.2" stroke-linecap="round" fill="none" clip-path="url(#c03)"/>
<ellipse cx="47.9" cy="253.6" rx="18.4" ry="19.7" fill="#4e4e4e" clip-path="url(#c10)"/>
<path d="M66.2 253.6h0M66.4 254.4h0M65.7 255.1h0M66.2 255.9h0M65.8 256.6h0M65.9 257.4h0M65.7 258.2h0M65.5 258.9h0M65.7 259.8h0M65.9 260.7h0M64.8 261.1h0M64.5 261.8h0M64.4 262.6h0M63.7 263.1h0M63.4 263.7h0M63.1 264.4h0M62.7 265.1h0M62.1 265.5h0M62.1 266.5h0M61.5 267.1h0M61.2 267.8h0M60.6 268.3h0M59.9 268.6h0M59.2 268.9h0M58.9 269.7h0M58 269.7h0M57.2 269.9h0M56.8 270.5h0M56.3 271.1h0M55.8 272h0M54.9 271.6h0M54.3 272.1h0M53.6 272.2h0M52.8 272.3h0M52.1 272.4h0M51.5 273h0M50.8 272.9h0M50 273h0M49.3 273.2h0M48.6 272.9h0M47.9 272.8h0M47.2 273.1h0M46.5 273.2h0M45.7 273.3h0M45 272.9h0M44.3 272.7h0M43.7 272.4h0M42.8 273h0M42.4 271.8h0M41.6 272h0M40.9 271.8h0M40.1 271.6h0M39.7 270.7h0M38.9 270.8h0M38.3 270.4h0M37.6 270.1h0M37.2 269.3h0M36.6 268.9h0M35.7 268.8h0M35.7 267.7h0M35 267.4h0M34.6 266.8h0M34.2 266.1h0M33.3 265.9h0M33.2 265h0M32.9 264.3h0M32 264h0M31.8 263.2h0M31.5 262.5h0M31.1 261.8h0M30.8 261.2h0M30.4 260.5h0M29.6 259.9h0M30.5 258.9h0M30.7 258h0M30.2 257.4h0M29.4 256.7h0M30.1 255.9h0M29.4 255.2h0M29.8 254.4h0M29.6 253.6h0M30.3 252.9h0M29.6 252.1h0M29.5 251.3h0M30.1 250.6h0M29.9 249.8h0M30.4 249.1h0M30.7 248.4h0M30.5 247.6h0M30.8 246.8h0M30.9 246.1h0M31.2 245.4h0M31.7 244.8h0M31.8 244h0M32.6 243.6h0M32.7 242.8h0M33.1 242.1h0M33.3 241.3h0M33.6 240.6h0M34.6 240.5h0M34.8 239.6h0M35.6 239.3h0M36 238.7h0M36.6 238.4h0M37 237.5h0M37.8 237.4h0M38.3 236.9h0M38.9 236.4h0M39.5 236h0M40.4 236.2h0M40.8 235.3h0M41.6 235.2h0M42.3 235.3h0M43 234.9h0M43.7 234.9h0M44.4 234.7h0M45 233.8h0M45.7 233.8h0M46.4 233.8h0M47.2 233.9h0M47.9 233.8h0M48.6 233.5h0M49.3 234.3h0M50 234.3h0M50.8 234.2h0M51.5 234.5h0M52.3 234.2h0M52.9 234.5h0M53.7 234.7h0M54.4 234.7h0M55.1 235.1h0M55.5 235.9h0M56.3 235.9h0M56.9 236.4h0M57.7 236.5h0M58.2 237.1h0M58.7 237.8h0M59.3 238.1h0M60 238.5h0M60.1 239.6h0M60.8 239.8h0M61.4 240.2h0M62 240.7h0M62.3 241.4h0M62.9 242h0M63.3 242.6h0M63.1 243.6h0M63.9 244h0M64.3 244.7h0M64.7 245.3h0M65.1 246h0M65.5 246.7h0M65 247.7h0M65.3 248.4h0M65.9 249h0M65.7 249.8h0M65.8 250.6h0M66.1 251.3h0M65.5 252.1h0M66.5 252.8h0" stroke="#4e4e4e" stroke-width="1.7" stroke-linecap="round" fill="none" clip-path="url(#c10)"/>
<path d="M64.1 255.3L64.3 256.1L64.1 256.9M63.7 258L63.5 259.1L63.2 260.2L62.8 261.3M61.7 263.3L61 264.2L60.2 265.1M59.1 266.5L58.6 267.5L57.4 267.8L56.7 268.6M53.4 270.1L52.5 270.7L51.5 271.1L50.4 270.9M48.6 271.3L47.8 271.1L47 271.3M43.9 270.7L42.6 270.4L41.6 269.4M39 268.3L38.1 267.6L37.3 266.9L36.5 266.1L35.6 265.4M34.6 263.3L33.5 262.4L33 261.2L32.8 259.9M32.5 258.7L31.9 257.8L32 256.6M31.2 254.4L31.3 253.1L31.5 251.9L31.6 250.7L32 249.5M33 246.4L33.4 245.2L34.3 244.2M34.8 242.5L35.8 242L36.3 241L37.1 240.3L37.8 239.6M39.3 238.6L40.1 237.9L41.2 237.8L42.1 237.2M44.3 236.5L45.7 236.3L47.1 236.4M48 236.1L49.1 236.1L50.1 236.4L51.2 236.6L52.3 236.4M54.3 237.5L55.3 237.8L56 238.5L56.9 239L57.9 239.4M60.1 242L60.9 243L61.7 244.1L62.1 245.3M63.6 248.1L63.8 249.1L63.9 250.2L64.1 251.2M64.4 253.1L64.4 253.4L64 253.6" stroke="#fff" stroke-width="0.7" stroke-linecap="round" stroke-linejoin="round" fill="none" clip-path="url(#c10)"/>
<path d="M59.8 253.9L59.6 255.3L59.4 256.7M58.3 259.6L57.8 260.5L57.2 261.3L56.7 262.2L56 262.8M54.9 263.7L54.2 264.5L53.4 264.9L52.5 265.2L51.6 265.7M49.6 266.2L48.3 266L47.1 266M43.9 265.4L43 265.1L42.2 264.7M39.7 262.9L38.9 262L38.4 261L37.8 260L37.1 259.1M36.5 257.2L36.2 256L36.1 254.8L36.2 253.6M36.3 251.5L36.5 250.4L36.7 249.4M37.9 246.7L38.7 245.7L39.5 244.7M41.8 242.7L42.7 242.1L43.7 241.9L44.7 241.5L45.7 241.3M48.1 240.9L49 241.1L49.8 241.2M52.2 241.8L53.1 242.2L54 242.8M55.6 243.9L56.3 244.4L56.9 245.1M58.3 247.4L58.6 248.4L59.2 249.3L59.3 250.4L59.7 251.4" stroke="#fff" stroke-width="0.7" stroke-linecap="round" stroke-linejoin="round" fill="none" clip-path="url(#c10)"/>
<path d="M54.4 236.9L54.7 239.1M51.8 242.5L52.6 242.9M63.2 252L64.6 252.9M53.9 259.1L54.2 261.5M40.6 238.3L42.8 237.3M34.7 252.8L34.7 252.4M54.4 242.3L53.9 244.4M56.6 243L57.7 244.1M32.3 251.6L31.9 251.7M52.2 242.9L52.6 244.5M46.5 263.9L46.9 264.7M57.5 239.8L58 240.3M35.8 242.2L37.7 240.4M35.4 245.8L33.6 247.1M57.4 250.5L57.7 251.6M40.5 256.3L40.1 254.5M39.1 248.4L39.4 248.8M32.9 259.7L32.6 258.9M34.4 262.6L34.9 263.8M36.6 240.8L37.3 241.3M57.8 240.6L59.2 241.1M62.5 255.9L64.9 257.1M53.8 260.4L52.1 261.6M63.3 258.6L62.3 261.2M58.8 254.1L58.6 255.7M56.7 255.8L56 257.2M47.5 236.5L47.7 236.5M49 241.9L50.3 242.1M40.7 244.2L38.7 244.8M60.8 242L60.1 243.7M46.6 244.4L46.1 244.6M38.2 267L38.2 267.5M34.4 244.6L33.2 246.4M44.6 242.8L46.2 242.4M46 237.6L46 237.8M55.5 245.3L56.1 245.9M52.5 244.8L54.8 245.5M52.2 266.8L50.7 267.2M38.2 257.8L38 257.5M46 269.3L47.2 269.4M41.1 269.1L39 268M33 256.6L34.3 258.8M54.2 267.1L53.5 267.4M54 268.3L54.6 270.3M33.8 261.8L33.6 261.4M57.9 266.1L58.1 266.2M49.8 245.3L51.7 246.1M58.5 251.7L59.4 252.5M57.1 238.7L57.4 240.7M55.5 256.3L54.8 257.8M52.9 260.7L50.9 261.8M44.7 249L42.3 249.5M55.5 256.9L54.2 259.1M36.5 265.6L35 264M42.9 248.5L43.5 248.5M40 266.8L40 267.6" stroke="#fff" stroke-width="0.9" stroke-linecap="round" fill="none" clip-path="url(#c10)"/>
<circle cx="47.9" cy="253.6" r="1.8" fill="none" stroke="#fff" stroke-width="1.2" clip-path="url(#c10)"/>
<circle cx="47.9" cy="253.6" r="0.9" fill="#4e4e4e" clip-path="url(#c10)"/>
<path d="M87.8 249.8C88.9 249.8 89.9 250.4 91.1 250.9C92.3 251.4 93.9 252.2 95.1 252.9C96.4 253.7 97.7 254.6 98.8 255.4C99.8 256.1 100.7 256.8 101.4 257.7C102.2 258.5 102.8 259.3 103.2 260.4C103.6 261.4 103.8 262.5 103.9 263.9C104 265.3 103.7 267.2 103.5 268.8C103.3 270.4 103.2 272.1 102.8 273.5C102.3 274.9 101.7 275.9 100.7 277C99.7 278.1 98.4 279.2 96.9 280C95.4 280.8 93.4 281.8 91.9 281.9C90.4 282 89.3 281.5 88 280.8C86.7 280.1 85.5 278.9 84.3 277.8C83.1 276.6 82 275.3 81.1 273.8C80.1 272.4 79.3 270.6 78.7 269.1C78.2 267.5 77.7 265.8 77.6 264.5C77.5 263.1 77.6 262.2 77.9 261C78.2 259.7 78.8 258.3 79.5 257.2C80.1 256.1 80.9 255.2 81.7 254.2C82.6 253.1 83.7 251.8 84.7 251.1C85.7 250.3 86.8 249.8 87.8 249.8Z" fill="#f54444" clip-path="url(#c10)"/>
<path d="M87.2 249h0M87.7 248.6h0M89.2 247.9h0M89.1 249.8h0M89.6 249.4h0M89.5 250.3h0M91.5 249.1h0M92.5 250.4h0M93.5 251h0M94 251.8h0M95.4 251.9h0M95.8 251.9h0M96.4 251.9h0M97 252.3h0M96.5 253.8h0M97.1 253.2h0M98.4 252.7h0M98.6 253.7h0M98.8 253.7h0M99.4 254.6h0M100.2 255.7h0M99.6 257.3h0M101.3 255.4h0M100.8 256.9h0M100.8 257.1h0M101 257.2h0M102.2 257.3h0M101.2 258.2h0M103.6 258.3h0M104.3 259.2h0M104.4 259.7h0M105 259.7h0M105 261.9h0M105.1 263.1h0M104.7 262.5h0M104.8 264.3h0M103.8 264.8h0M105.5 265.3h0M104.2 265.5h0M104.6 266.2h0M105.1 267.4h0M105.2 267.6h0M104.9 268.6h0M103.6 268.6h0M104 269.6h0M102.9 269.7h0M103.3 270.5h0M103.6 270.8h0M102.8 271.3h0M104.4 272.2h0M104.1 273h0M104.6 273.8h0M102.3 273.9h0M102.2 274h0M102.9 274.6h0M103.3 275.8h0M103 276h0M101.7 275.5h0M101.2 275.9h0M102.2 276.9h0M102.1 278.3h0M102.1 278.3h0M100.2 278.6h0M99.5 277.7h0M100.5 279.5h0M98.9 278.1h0M99.8 279.9h0M99.7 280.2h0M97.9 279.1h0M97.4 279.7h0M97.4 280h0M97.2 280h0M97.1 281.2h0M96.8 281.2h0M95.6 280.6h0M96 282.1h0M95.1 280.9h0M94.6 282.2h0M93.2 281.6h0M92.9 283.4h0M92.6 283.4h0M92 282.8h0M91.5 281.8h0M90.8 283.5h0M90.8 282.8h0M90.5 281.8h0M89.3 282.2h0M90.2 282.1h0M88.9 282.5h0M88.1 282.6h0M87.8 282.3h0M87.3 280.2h0M87.1 280.6h0M86.6 280.2h0M85.8 280.3h0M84.7 278h0M84.5 277.7h0M83.2 278.4h0M84.1 277.1h0M82.5 276.7h0M80.2 276.2h0M81.1 274.5h0M81.2 275h0M80.3 274h0M79.8 273.5h0M80.1 273h0M79.1 272.6h0M78.7 272.8h0M78.1 271.8h0M78.1 271.4h0M77.4 270.9h0M77.9 270.2h0M78.7 269.3h0M77.2 269h0M76.7 268.9h0M77.6 268.2h0M76.8 268.1h0M76.3 267.3h0M77.6 266.7h0M76.2 266.2h0M77.7 265.6h0M77.2 264.9h0M78.2 264.7h0M76.9 264.1h0M78.2 263.5h0M76.8 262.4h0M77.8 262.7h0M77.4 261.6h0M78.6 260.9h0M77.7 260.1h0M76.8 259.4h0M76.8 258.8h0M78.7 259.3h0M78 258.5h0M78.3 257.9h0M77.4 256.8h0M79.6 257.9h0M80 257.2h0M79.3 256.4h0M80.5 256.4h0M79.9 254.4h0M81.5 254h0M81.3 253.1h0M82.4 253.9h0M80.9 252.2h0M81.6 252.1h0M82.6 252h0M82.5 251.1h0M83.6 251.3h0M84.3 251.7h0M83.2 250.5h0M84.3 249.5h0M86.3 250.6h0M85.8 249h0M85.6 248.7h0M86.7 248.5h0M89.3 247.1h0M90.3 247.8h0M92.5 248.3h0M93.2 249.8h0M95.8 251.2h0M99 252.6h0M100.3 252.6h0M104.4 257.1h0M105.2 259.8h0M106.2 265.3h0M105.8 267.2h0M105 270.9h0M105 274.4h0M98.5 282.3h0M95.6 283h0M93.9 284.2h0M87.3 282.9h0M79.1 276.8h0M79.1 275.3h0M76.9 271h0M76.4 269.5h0M77.1 255.6h0M77.9 254.8h0M80.7 251.2h0" stroke="#f54444" stroke-width="2.2" stroke-linecap="round" fill="none" clip-path="url(#c10)"/>
<path d="M103.5 254.6h0M98.2 251.9h0M86 247.8h0M76 262h0M106.5 267h0M95 284.3h0" stroke="#f54444" stroke-width="2.5" stroke-linecap="round" fill="none" clip-path="url(#c10)"/>
<ellipse cx="223.2" cy="260.2" rx="20.3" ry="20.8" fill="#4e4e4e" clip-path="url(#c11)"/>
<path d="M243.5 260.2h0M244 261h0M242.9 261.7h0M243 262.5h0M243.2 263.3h0M243.2 264.1h0M243 264.8h0M242.8 265.6h0M242.2 266.2h0M242.2 267h0M242.3 267.9h0M241.5 268.4h0M241.4 269.2h0M241.1 269.9h0M240.9 270.7h0M240.2 271.1h0M240.2 272.1h0M239.5 272.5h0M239.1 273.2h0M238.5 273.7h0M237.9 274.2h0M237.3 274.6h0M237.1 275.5h0M236.4 275.9h0M236 276.6h0M235.3 277h0M234.5 277.1h0M234 277.8h0M233.2 278h0M232.4 278h0M232.1 279.1h0M231.3 279.2h0M230.6 279.5h0M230 280.1h0M229.1 279.7h0M228.5 280.5h0M227.7 280.2h0M227 280.6h0M226.2 280.7h0M225.4 280.5h0M224.7 280.4h0M224 281.2h0M223.2 280.8h0M222.4 281h0M221.7 280.7h0M220.9 280.8h0M220.2 280.6h0M219.4 280.5h0M218.6 280.6h0M217.8 280.7h0M217.3 279.7h0M216.6 279.6h0M215.8 279.6h0M215.2 279.1h0M214.4 278.8h0M213.6 278.7h0M213.1 278.1h0M212.6 277.5h0M211.7 277.5h0M211.2 276.9h0M210.5 276.5h0M210 275.9h0M209.8 275h0M208.6 275.1h0M208.5 274.1h0M207.6 273.9h0M207.7 272.9h0M206.9 272.5h0M206.4 271.9h0M206.2 271.1h0M205.6 270.6h0M205.2 269.9h0M205.1 269.1h0M204.5 268.6h0M204.3 267.8h0M203.9 267.1h0M204.1 266.2h0M203.8 265.5h0M203.6 264.8h0M203.5 264h0M203.3 263.3h0M202.9 262.5h0M202.9 261.8h0M203.2 261h0M203 260.2h0M202.9 259.4h0M203.3 258.7h0M203.2 257.9h0M203.3 257.1h0M203.6 256.4h0M203.8 255.7h0M203.9 254.9h0M203.7 254h0M204.2 253.4h0M204.3 252.6h0M204.8 252h0M205.4 251.4h0M205.5 250.6h0M205.5 249.7h0M206.1 249.2h0M206.6 248.6h0M206.9 247.9h0M207.4 247.3h0M208 246.8h0M208.5 246.2h0M208.8 245.5h0M209.5 245.1h0M210.3 244.8h0M210.5 243.9h0M211.4 243.8h0M212.1 243.5h0M212.7 243h0M213.4 242.8h0M213.6 241.6h0M214.5 241.6h0M215 241h0M215.8 240.8h0M216.6 240.7h0M217.4 240.9h0M217.9 240h0M218.7 240.1h0M219.4 239.9h0M220.2 240.1h0M220.9 239.2h0M221.7 239.8h0M222.4 239.4h0M223.2 239.5h0M224 239h0M224.7 239.1h0M225.5 239.5h0M226.2 239.8h0M227 239.5h0M227.8 239.8h0M228.3 240.7h0M229.2 240.4h0M229.8 240.8h0M230.7 240.6h0M231.5 240.8h0M231.9 241.8h0M232.6 242h0M233.2 242.5h0M234 242.5h0M234.7 242.9h0M235 243.9h0M235.5 244.4h0M236.5 244.4h0M237 245h0M237.3 245.7h0M238.1 246h0M238.8 246.5h0M239.4 247h0M239.6 247.8h0M239.8 248.6h0M240.5 249.1h0M240.8 249.8h0M241 250.6h0M241.8 251h0M242.1 251.8h0M242.6 252.4h0M242.3 253.3h0M242.4 254.1h0M242.7 254.9h0M243 255.6h0M242.8 256.4h0M242.8 257.2h0M243.8 257.8h0M243.6 258.6h0M243.5 259.4h0" stroke="#4e4e4e" stroke-width="1.7" stroke-linecap="round" fill="none" clip-path="url(#c11)"/>
<path d="M241.1 262.6L241.1 263.8L240.5 264.7L240.3 265.8M239.5 267.7L239.4 268.8L238.9 269.6M238.2 270.4L237.8 271.7L236.4 272.3L235.6 273.4M234.9 274L234.1 274.9L233.3 276L232.2 276.6L231 276.8M227.6 278.3L226.7 278.1L225.9 278.2M222.7 278.6L221.4 279L220.1 278.7M217.5 277.6L216.5 277.7L215.8 277M214.2 276.1L213.2 275.7L212.3 275.1M210.4 273.4L209.5 272.5L209 271.2L208.2 270.2M207.4 268.6L206.7 267.5L206.2 266.3L205.9 265M205.4 262.9L205 261.8L205.2 260.6L205.2 259.5L205.6 258.4M205.5 256.2L206.1 255.2L206.4 254.1M206.9 252L207.5 251L208.1 250L208.7 249M210.7 247L211.7 246.2L212.4 245.1M214 244.4L215 243.6L216.2 243.4L217.2 242.8L218.4 242.4M220.9 241.9L221.8 242.2L222.7 241.7M224.2 241.7L225.2 242L226.2 242.2L227.1 242.6M230.6 243.2L231.6 243.8L232.8 244.4L233.4 245.5M235 246.5L236.2 247.2L237.1 248.2M238.2 250L238.7 250.9L239.6 251.6L239.5 252.8L240.1 253.7M240.7 255.8L241.2 257L241.4 258.3L241.2 259.5" stroke="#fff" stroke-width="0.7" stroke-linecap="round" stroke-linejoin="round" fill="none" clip-path="url(#c11)"/>
<path d="M235.7 260.3L235.7 261.4L235.4 262.5L235.4 263.7L235.2 264.8M233.1 268L232.7 268.7L232.1 269.3M230.3 271.2L229.2 271.7L228.1 272.1L227 272.4M223.3 273.1L222.2 273.3L221.1 272.8L220 272.8M218 271.8L217 271.2L216 270.7M213.3 268.5L212.6 267.4L211.9 266.4L211.5 265.1M210.9 263.6L210.7 262.5L210.6 261.4L210.4 260.3L210.7 259.2M210.9 257.4L211.3 256.6L211.5 255.7M211.9 254.5L212.5 253.5L213.1 252.5M215.3 250.3L216.1 249.4L217.2 248.8M219.3 247.9L220.4 247.7L221.5 247.5L222.7 247.3M225.9 247.7L227 247.9L228.1 248.3L229.2 248.9L230.3 249.4M233.1 252.2L233.8 253.2L234.4 254.2L234.9 255.4M235.6 258.5L235.9 259.3L235.8 260.2" stroke="#fff" stroke-width="0.7" stroke-linecap="round" stroke-linejoin="round" fill="none" clip-path="url(#c11)"/>
<path d="M210.3 253.2L210.2 253.4M227.1 265.8L227.9 265.9M211.6 273.1L211.3 274.3M212.1 262.2L212 260M229.7 252.2L231.4 254M210.2 271.1L210 270.8M217.8 268.1L216.4 266.9M231.9 265.9L232.7 267.4M237.4 261.9L237.2 263.4M230 249.5L230.9 250.2M230.1 259.4L230.1 259.7M220.8 242.9L223.1 242.7M236.6 269.8L235.8 270.8M207.9 262.2L207.8 261.6M234.1 260.6L234.1 261M219.3 246.6L220.5 246.3M209.5 249.5L209.3 249.7M217.5 253.4L217.8 253.1M230 244.6L230.5 244.7M216.9 269.9L216.6 269.7M236.6 252.2L236.7 252.4M239.8 254L240.4 256.1M239.8 262.7L239.5 264.2M213.9 271.8L212 269.9M224.4 271L223.2 271M212.1 250.6L213 249.6M225 266.8L223.9 267M239.5 252.6L239.6 254.2M238.8 267.4L237.5 268.3M225.7 247.9L228 248.6M215.5 269.3L216.3 270.1M231.3 275L230.6 275.4M213.7 246.8L214.7 246.1M233.5 254.5L234.3 256.3M216.2 247.6L216 247.7M226.9 277L226.2 277.6M231.3 256.2L232 258M234.4 262L234.2 263.3M223.7 269.4L223.6 269.8M215.7 244.5L217.3 243.8M225.2 251.6L225.2 254.2M215.8 274.9L214.9 274.4M219.7 268.9L218.2 268.1M215 271.8L214.7 271.6M233.1 271.6L231.5 272.9M233.2 263.6L231.6 263.8M206.5 259.4L208.2 261.5M224.9 277.5L222.4 277.5M205.9 256.6L206.6 254M217.2 274.7L216.4 274.3M205.6 261.2L205.6 260.1M223.4 242.1L225.7 242.3M224.1 241.5L224 242.9M206.2 263.6L205.9 265M212.6 274.7L213.2 275M223.1 275.8L222.2 275.8M236.6 268.2L235.7 269.6M223.8 277.8L225.5 278.6M219.3 242L217.3 243.7M231.3 275.7L230 276.3M207.6 270L210.2 270.4M211 251.4L209.8 252.4M207.3 263.6L207 261.4M218.8 268.6L218 268.1M240.6 253.9L239.2 254.7M214.8 249.2L215.1 250.2" stroke="#fff" stroke-width="0.9" stroke-linecap="round" fill="none" clip-path="url(#c11)"/>
<circle cx="223.2" cy="260.2" r="1.8" fill="none" stroke="#fff" stroke-width="1.2" clip-path="url(#c11)"/>
<circle cx="223.2" cy="260.2" r="0.9" fill="#4e4e4e" clip-path="url(#c11)"/>
<path d="M200 226L228.6 226L228.6 238C227.8 245 227.2 250 225.8 254L221.5 255.8L218.6 251.5L216 249.6L200 249.6Z" fill="#fff" clip-path="url(#c11)"/>
<path d="M223.2 260.2h0M215.8 232.8h0M213 244h0M221.4 243.5h0M208 247.6h0M224.4 252h0M217 249h0M204 251.5h0" stroke="#4e4e4e" stroke-width="1.9" stroke-linecap="round" fill="none" clip-path="url(#c11)"/>
<path d="M229 253.8C229.4 254.2 231.4 254.4 232.9 254.7C234.5 255.1 236.7 255.6 238.5 256.1C240.2 256.6 241.7 257.2 243.3 257.6C245 258 247 258.5 248.6 258.6C250.2 258.7 251.9 257.9 253 258.1C254.1 258.2 253.9 259.1 255.1 259.7C256.3 260.3 258.5 261.2 260.1 261.7C261.7 262.3 263.3 262.6 264.8 263.2C266.3 263.8 268 264.8 269.3 265.4C270.6 266.1 271.6 266.3 272.8 267.1C274 267.9 275 269.2 276.4 270.3C277.8 271.4 280 272.8 281.1 273.6C282.3 274.5 282.9 275.4 283.2 275.4C283.6 275.4 284.2 274 283.3 273.7C282.4 273.5 279.8 273.5 277.9 273.7C276 273.9 273.4 274.4 271.9 274.8C270.3 275.1 269.9 275.5 268.5 275.6C267 275.7 264.8 275.2 263.2 275.1C261.7 275 260.2 275.3 259.1 274.9C258.1 274.5 258.2 273.6 256.9 272.8C255.7 271.9 253.6 270.6 251.9 269.7C250.2 268.8 248.3 267.8 246.9 267.3C245.5 266.7 244.4 267 243.4 266.5C242.4 265.9 242 264.7 240.8 263.8C239.7 263 237.7 262.5 236.4 261.2C235.1 259.9 233.9 257.3 232.9 255.8C231.9 254.4 231 253 230.3 252.6C229.7 252.3 228.5 253.5 229 253.8Z" fill="#f54444" clip-path="url(#c11)"/>
<path d="M228.4 252.9h0M229 254.1h0M230.7 252h0M232.2 253.8h0M232.8 254.8h0M233.8 255.1h0M234.2 253.8h0M235.5 253.7h0M235.4 254.2h0M235.7 254.6h0M235.9 256h0M237.5 255.9h0M238.4 254.4h0M238.9 256.7h0M239.9 256.8h0M241.2 255.1h0M241.4 256.4h0M241.9 256.5h0M242.5 256h0M243 257h0M243.5 257.6h0M244.2 257.2h0M246.3 258h0M249.5 257h0M249.4 256.6h0M251.4 257.2h0M252.5 257.5h0M252.7 258.4h0M252.8 257.1h0M252.8 257.7h0M252.8 257.6h0M253 258.1h0M253.5 256.4h0M252.4 258.6h0M254.3 257.5h0M254.2 258.3h0M254.5 259.2h0M255.1 259.4h0M255.5 259.5h0M257.5 259.9h0M257.7 261.1h0M258.5 261.8h0M260.2 261.9h0M261.1 261.6h0M261.7 262h0M261.8 260.6h0M262.4 261h0M262.9 260.9h0M263.2 261.8h0M263.7 261.6h0M264 262.8h0M264.6 262.9h0M265 263.2h0M266.2 262.5h0M266.3 262.9h0M266.1 264.3h0M267 264.6h0M267.9 265.3h0M269.1 263.7h0M269.7 264.7h0M269.9 264.4h0M270.4 266h0M272.3 264.8h0M272.3 266.3h0M272.5 266.3h0M273 265.8h0M273.5 265.5h0M273.6 267.4h0M274.1 267.1h0M275.5 266.5h0M274.6 268.2h0M276.3 268.5h0M276.3 269h0M277.9 268.8h0M277.8 268.8h0M277.7 271.4h0M278.5 271.9h0M279.1 272.5h0M280.7 271.7h0M280 272.5h0M281.1 273.6h0M282.1 274.6h0M282.1 274.8h0M284 274.2h0M283.7 275.6h0M284.8 275.2h0M284.9 275.3h0M284.5 274.6h0M284.2 273.6h0M283.9 274.8h0M283.1 274.1h0M280.7 275h0M280.4 274h0M279.1 275.5h0M278.2 273.3h0M277.9 273.5h0M277.3 274.2h0M277.2 275.3h0M275.7 274.4h0M274.8 275.9h0M273.6 274.6h0M273.2 275.8h0M273 274.9h0M271.9 274.5h0M272.2 275.3h0M271.5 276.4h0M270.4 275.6h0M270.3 276.1h0M269.5 276.7h0M268.4 275.3h0M267.8 277.9h0M267.8 277.1h0M266.5 277.2h0M266.3 276.5h0M266.4 275h0M265 276h0M264.8 275.1h0M264.5 276h0M264 276.2h0M263.3 276.8h0M262.8 276.6h0M262.2 276.1h0M261.3 275.1h0M260.7 276.4h0M260.6 276.7h0M260 276.1h0M259.4 275h0M258.8 275.3h0M259.2 274.9h0M258.3 275.9h0M257.4 273.9h0M256.6 273.2h0M255.7 273.1h0M256.2 272.1h0M255.3 272h0M255.2 271.8h0M253.3 272.2h0M252.8 271.8h0M252.5 269.7h0M251.7 270.1h0M251.4 269h0M250.7 270.3h0M250.4 268.9h0M250.7 268.8h0M249.4 268.7h0M248.6 268.5h0M248.2 269.5h0M248.3 268.4h0M247.3 267.3h0M247.1 268h0M246.5 267.7h0M245.7 269.2h0M245.5 266.6h0M244.7 266.7h0M244.3 266.6h0M243.5 268.2h0M242.9 266.5h0M242.8 266.6h0M241.6 266.1h0M241.5 264.9h0M241.8 264.7h0M241.3 263.7h0M240.7 263.5h0M239.2 264h0M239.7 263h0M237.2 263.8h0M237.7 262.9h0M235.4 262.3h0M235.9 262.5h0M236.4 260.9h0M236.3 261.1h0M235 261.1h0M235 260.4h0M234.4 260.6h0M234.1 260.4h0M234 259.1h0M233.5 258.9h0M232.8 258.1h0M233 257h0M233.4 256h0M231.4 256h0M230.8 255.3h0M230.4 253.8h0M230.6 253.5h0M229.4 254h0M230.6 252.4h0M230.8 252.5h0M228.8 252.6h0M230.2 252.4h0M228.9 252.3h0M228.8 252.5h0M232 252.4h0M239 254.4h0M254.5 256.6h0M257.3 258.6h0M259.1 258.6h0M261.9 260.8h0M264.1 260.6h0M267.3 260.7h0M271.4 264.1h0M277.8 268.6h0M272.7 277.3h0M267.8 278h0M249.3 271.8h0M245.9 269.8h0M243.8 269.5h0M233.9 261.5h0M229.9 255.8h0M228.6 254.2h0" stroke="#f54444" stroke-width="2.2" stroke-linecap="round" fill="none" clip-path="url(#c11)"/>
<ellipse cx="435.1" cy="252" rx="16.7" ry="16.7" fill="#4e4e4e" clip-path="url(#c12)"/>
<path d="M451.4 252h0M451.9 252.8h0M451.8 253.5h0M451.6 254.3h0M451.5 255.1h0M451.3 255.8h0M451.2 256.6h0M450.9 257.3h0M450.9 258.1h0M450.3 258.7h0M450.1 259.5h0M450 260.3h0M449.5 260.9h0M449.1 261.6h0M447.8 261.6h0M447.8 262.6h0M447.3 263.2h0M447 263.9h0M446.3 264.3h0M445.8 264.9h0M445.2 265.3h0M444.6 265.8h0M443.9 266.1h0M443 266.2h0M442.5 266.8h0M442 267.5h0M441.2 267.7h0M440.3 267.6h0M439.7 268.1h0M438.9 268.1h0M438.1 268h0M437.3 268h0M436.6 268.4h0M435.9 268.9h0M435.1 268.9h0M434.3 268.5h0M433.6 268h0M432.9 268.1h0M432.1 268.2h0M431.3 268.4h0M430.5 268.1h0M429.7 268.1h0M429.1 267.6h0M428.6 266.7h0M428 266.3h0M427.1 266.4h0M426.6 265.7h0M425.8 265.6h0M424.9 265.5h0M424.6 264.6h0M423.4 264.8h0M423.4 263.7h0M422.7 263.3h0M422.4 262.5h0M421.9 261.9h0M421.4 261.4h0M421.4 260.5h0M420.3 260.2h0M420 259.5h0M419.9 258.7h0M419.8 257.9h0M419.2 257.3h0M418.6 256.7h0M419.1 255.8h0M418.9 255h0M418.5 254.3h0M418.7 253.5h0M418.4 252.8h0M418.4 252h0M418.6 251.2h0M418.5 250.5h0M418.8 249.7h0M418.8 248.9h0M419 248.2h0M419 247.4h0M419 246.6h0M419.5 245.9h0M419.8 245.2h0M420.5 244.7h0M420.4 243.8h0M421.2 243.4h0M421.4 242.6h0M421.8 242h0M422 241.1h0M422.8 240.8h0M423.4 240.3h0M423.6 239.4h0M424.5 239.3h0M425.5 239.2h0M425.4 237.9h0M426.7 238.4h0M426.9 237.2h0M427.7 237.2h0M428.3 236.6h0M429.1 236.4h0M429.7 236h0M430.5 235.8h0M431.4 236.2h0M432 235.2h0M432.8 235.3h0M433.6 235.9h0M434.3 235.6h0M435.1 235.5h0M435.9 235.7h0M436.6 235.5h0M437.4 235.5h0M438.2 235.4h0M438.9 235.7h0M439.8 235.6h0M440.3 236.3h0M441.1 236.6h0M442 236.4h0M442.4 237.3h0M443 237.9h0M443.7 238.1h0M444.5 238.3h0M445.1 238.8h0M445.8 239.1h0M446 240.1h0M446.7 240.4h0M447.5 240.7h0M447.9 241.4h0M447.9 242.4h0M448.5 242.8h0M449.1 243.3h0M449.5 244h0M450.2 244.5h0M450.3 245.3h0M450.8 245.9h0M450.8 246.7h0M451 247.5h0M451.1 248.2h0M450.9 249h0M450.8 249.8h0M451.5 250.5h0M451.8 251.2h0" stroke="#4e4e4e" stroke-width="1.7" stroke-linecap="round" fill="none" clip-path="url(#c12)"/>
<path d="M449.8 252.4L450 253.7L449.3 254.8L449.5 256.1M448.6 257.8L448.1 258.8L447.7 259.9L447 260.8L446.3 261.7M443.9 263.8L443.2 264.4L442.4 264.9M439.2 266L438.2 266.5L437.1 266.7L436.1 266.6M434.3 266.7L433.1 266.7L432 266.2L430.8 266.1L429.6 265.8M426.9 264.4L426.1 263.8L425.3 263.1M424.4 262.1L423.6 261.2L422.9 260.2M421.3 257.1L420.8 256.4L420.7 255.5M420.2 251.8L420.4 250.7L420.5 249.7L420.7 248.6L421 247.6M421.7 246.3L421.8 245.4L422.5 244.7M424 242.3L424.7 241.4L425.6 240.6L426.6 240L427.5 239.2M429.4 238.1L430.6 238.1L431.6 237.7M433.1 237.3L434.3 237.2L435.5 237.2L436.7 237.3L437.8 237.6M440.6 238.3L441.5 238.6L442.5 238.8M444.9 241L445.7 241.8L446.3 242.7L447.2 243.4M447.9 244.5L448.5 245.4L448.5 246.6L448.9 247.6M450.1 251.3L450 251.7L449.9 252" stroke="#fff" stroke-width="0.7" stroke-linecap="round" stroke-linejoin="round" fill="none" clip-path="url(#c12)"/>
<path d="M439.8 246.2L440.9 246.5M434.2 253.4L435.6 255.4M428.8 248.9L427.6 249.2M430.8 245.1L431 244.9M431 253.3L431 250.5M437.5 262.6L435.3 262.8M445.2 255.6L444.5 257.2M421.8 257.5L422 258.9M441.6 245.9L442.3 246.7M436.6 258L434.7 258.2M433.9 243.3L435.1 243.2M440.8 258.8L441.1 258.9M435.6 261.2L433.8 261.1M432.9 237.9L432.9 238.4M428.7 246L429.1 245.6M435.2 261.7L435.3 264.1M423 244L422.1 244.9M447.2 254.4L447.2 256.8M426.2 261.4L425.7 262.7M448.1 258.7L447.6 259.6M443.7 259.9L443.1 260.5M437 255.3L435.5 255.7M435.5 261L434 261.8M432.9 243.5L434.2 243.2M430.9 266L429.4 265.5M449.7 253.3L449.4 255.2M428.3 251.6L429.9 252.5M430.8 247.8L428.2 248.2M448.2 257.4L449 257.8M435.1 258L433.4 257.7M434.5 266.6L434 266.6M440.6 260.1L439.5 261.4M429.8 259.3L429.2 258.9M427.1 239.7L429.5 238.4M448.5 246.2L448.8 246.9M434.2 248.8L433.3 249.1M430.3 240.9L429.6 241.2M438.6 254.4L436.5 255.2M434.4 243.6L434.9 243.6M424 260.5L424.1 261.5M445.3 258.1L445.9 258.2M449.4 248.7L449.7 250.7M440.4 244.7L441 245.1M425.7 242L427.4 240.6M444.9 260.7L443.8 261.8" stroke="#fff" stroke-width="0.9" stroke-linecap="round" fill="none" clip-path="url(#c12)"/>
<path d="M438.3 301.4h0" stroke="#4e4e4e" stroke-width="2.3" stroke-linecap="round" fill="none" clip-path="url(#c12)"/>
<path d="M422.9 265.7C423.6 264.6 425.3 262.5 426.4 261.4C427.5 260.3 428.2 259.7 429.7 259C431.1 258.3 433.3 257.6 435.3 257.2C437.2 256.8 439.3 257 441.3 256.7C443.2 256.4 446 255.8 447 255.5C448 255.2 447.5 254.1 447.6 255C447.7 255.8 447.6 258.8 447.4 260.5C447.2 262.3 446.3 264 446.2 265.5C446.1 267.1 447.1 269 446.9 270C446.7 271 445.6 270.6 444.9 271.4C444.2 272.3 443.5 274.1 442.7 275C441.8 275.9 441.2 276.2 439.7 276.9C438.2 277.6 435.6 278.4 433.5 279.4C431.4 280.4 428.6 282.3 427.3 283.1C426 283.9 426.3 284.3 425.6 284.1C424.9 283.9 423.3 283 423 281.9C422.7 280.9 423.9 279.7 423.8 278C423.7 276.2 422.8 273.2 422.6 271.6C422.4 269.9 422.4 269 422.5 268.1C422.6 267.1 422.3 266.8 422.9 265.7Z" fill="#f54444" clip-path="url(#c12)"/>
<path d="M422.8 266.2h0M423.3 265.2h0M422.8 264.2h0M422.1 263.6h0M422.3 263.2h0M424.5 263.8h0M423.6 262.4h0M424 261.9h0M424 261.8h0M424.4 261.1h0M425.4 262.1h0M426.7 262h0M426.5 261.2h0M426.5 260.7h0M426.8 260.4h0M427 259.9h0M427.3 259h0M427.8 258.8h0M428.1 258.6h0M429.6 258.9h0M429.8 257.4h0M430 257.8h0M431.6 258.2h0M432.3 258.2h0M431.8 256.5h0M433.3 257.9h0M433.8 255.8h0M435.4 256.9h0M436.6 255.9h0M436.8 257.3h0M436.6 256.6h0M438.1 256.3h0M438.7 257h0M439 255.1h0M439.3 256.2h0M440.2 255h0M440.6 255.3h0M442.2 256.6h0M442.6 257.2h0M443.2 255.4h0M443.9 255.4h0M443.1 255.3h0M444.8 254.1h0M445.8 255.4h0M446.3 256h0M446.8 254.7h0M447.2 255h0M448.2 254.9h0M448.2 256h0M448.3 255.4h0M447.2 255.8h0M447.3 255h0M447.8 255h0M447.7 254.6h0M447.8 255.1h0M449 255.5h0M448.1 256.2h0M448.1 256.2h0M449.4 257.3h0M449.2 257.1h0M447.9 258.1h0M448.8 258.6h0M447.5 259h0M449.3 260.1h0M449.2 260.6h0M447.2 260.6h0M447 261.9h0M448.1 262.3h0M447.3 263.6h0M447.2 263.9h0M447.9 264.2h0M447.1 265.3h0M446.3 265.4h0M446.9 266.2h0M447 267.2h0M447.9 267.1h0M446.4 268.1h0M446.4 268.7h0M448.9 268.5h0M447.4 269.7h0M446.5 270.2h0M447.3 270.1h0M446.8 270.9h0M447.1 272.1h0M443 272.6h0M442.9 275h0M443.8 275.8h0M442.2 274.9h0M443.3 276.3h0M441.9 275.3h0M441.3 275.4h0M440.8 276.1h0M441.3 277.5h0M440.2 276.8h0M439.4 277.4h0M439.7 277.8h0M438.7 276.7h0M438.7 278.5h0M437.6 279.2h0M437.3 278.1h0M436.9 278.3h0M436.5 280.6h0M435 279.1h0M435.2 279h0M434.1 280.1h0M433.3 279.1h0M433.7 280.3h0M431.7 281h0M432.3 281.7h0M431.1 281.3h0M431.9 282.8h0M430.1 281.6h0M428.4 282h0M427.8 282.3h0M428.8 284.7h0M427.3 284.9h0M425.9 283.5h0M426 284.8h0M426.1 285.1h0M426 285.9h0M426 285.3h0M425.5 285.6h0M425.2 285.1h0M425.9 283.7h0M423.8 285.3h0M423.8 284.7h0M423.9 283.8h0M423.1 283.3h0M422.3 284h0M422.8 282.9h0M423.5 282.1h0M422.7 281.8h0M422.2 282.6h0M422.8 282h0M422.3 280.3h0M423.8 280.4h0M424.2 278.9h0M422 277.6h0M422.9 277.7h0M422 276.9h0M423.6 275.9h0M423.3 275h0M422 274.7h0M423.7 273.9h0M421.4 273.2h0M422.3 272.3h0M421 272.5h0M423.7 272.1h0M422.8 271.4h0M421.7 271.4h0M421.8 270.6h0M423.1 270.3h0M421.5 270.2h0M421.3 269.7h0M421.8 268.4h0M421 268.3h0M422.3 268.1h0M422.6 267.4h0M421.8 266h0M421.4 266.9h0M422.7 266.3h0M421.4 265.6h0M422.9 262.6h0M423.6 261.5h0M427.3 258h0M430.1 256.4h0M440.8 255h0M449.6 254.3h0M450.1 255.8h0M449 264h0M449.3 265.4h0M448.5 272h0M445.6 274.5h0M445.3 275.4h0M444.8 277h0M443.5 277.3h0M442 277.9h0M440.6 279.2h0M439.3 279h0M436.3 281.7h0M434 280.8h0M433.4 282.3h0M430.8 284.4h0M426 285.8h0M423.1 286.4h0M421.2 280h0M419.9 273h0M420.8 271.6h0M419.9 269.9h0M419.3 267.6h0M420.4 265.7h0" stroke="#f54444" stroke-width="2.2" stroke-linecap="round" fill="none" clip-path="url(#c12)"/>
<ellipse cx="610" cy="264" rx="14.5" ry="14.1" fill="#4e4e4e" clip-path="url(#c13)"/>
<path d="M624.5 264h0M624.3 264.7h0M624.3 265.5h0M624.8 266.3h0M624.3 267h0M624.3 267.8h0M623.5 268.3h0M623.3 269h0M622.9 269.7h0M622.7 270.4h0M622.4 271h0M622.3 271.9h0M621.5 272.2h0M621.5 273.1h0M620.5 273.3h0M620.5 274.4h0M619.5 274.4h0M618.9 274.8h0M618.4 275.5h0M617.7 275.8h0M617 276.1h0M616.5 276.8h0M615.8 277.1h0M615.2 277.5h0M614.2 277h0M613.7 277.9h0M612.7 277.2h0M612.1 278h0M611.3 277.9h0M610.6 277.8h0M609.8 278.2h0M609.1 277.7h0M608.3 277.8h0M607.6 277.6h0M606.7 278h0M606 277.8h0M605.3 277.3h0M604.6 277.1h0M604 276.6h0M603.1 276.7h0M602.4 276.3h0M602 275.5h0M601.5 275h0M600.5 275h0M600.4 274h0M599.5 273.9h0M598.8 273.4h0M599 272.3h0M598.1 272.1h0M597.6 271.5h0M597.1 270.9h0M596.6 270.3h0M596.9 269.3h0M596.3 268.8h0M596 268.1h0M595.6 267.4h0M595.7 266.6h0M595.5 265.9h0M596 265.1h0M595.4 264.4h0M595.6 263.6h0M595.5 262.9h0M596.1 262.2h0M596 261.5h0M595.9 260.7h0M596.4 260h0M596.1 259.2h0M596.5 258.5h0M597.1 257.9h0M597 257h0M597.6 256.5h0M598 255.9h0M598.5 255.3h0M598.6 254.4h0M599.8 254.4h0M599.9 253.5h0M600.6 253.1h0M601.4 253h0M601.8 252.2h0M602.6 252h0M603.3 251.8h0M603.9 251.3h0M604.6 250.9h0M605.4 250.9h0M606.1 250.7h0M606.8 250.3h0M607.5 250.2h0M608.3 250.3h0M609.1 250.2h0M609.8 250.3h0M610.6 250.1h0M611.4 249.7h0M612.1 250h0M612.8 250.5h0M613.6 250.4h0M614.3 250.7h0M615.1 250.7h0M615.8 251h0M616.2 251.9h0M616.9 252.1h0M617.8 252.1h0M618.3 252.6h0M619.1 252.8h0M619.4 253.7h0M619.7 254.4h0M621.2 254h0M621.6 254.8h0M621.5 255.8h0M622.4 256.1h0M622.3 257h0M622.6 257.7h0M623.4 258.1h0M622.8 259.2h0M623.4 259.7h0M623.5 260.4h0M624.6 261h0M623.9 261.8h0M624.4 262.5h0M624.4 263.3h0" stroke="#4e4e4e" stroke-width="1.7" stroke-linecap="round" fill="none" clip-path="url(#c13)"/>
<path d="M622 265.5L621.8 266.4L621.6 267.4L621.2 268.3M620.3 270.6L619.5 271.4L618.7 272.2L618 273.1L617 273.7M614.9 274.9L613.8 275.1L612.7 275.6L611.6 275.7L610.5 275.9M609.2 275.7L607.9 275.7L606.6 275.3L605.4 275M603 273.6L602.3 272.9L601.4 272.4L600.6 271.8L600.2 270.8M598.4 267.7L598.3 266.6L597.7 265.5M597.7 264.5L597.8 263.2L597.9 261.9M599.1 258.5L599.8 257.7L600.4 256.9L601 256.1M602 255.1L602.7 254.3L603.8 253.8L604.8 253.2M607.4 252.3L608.9 252.1L610.3 252.2M613.8 252.5L614.7 253L615.6 253.5M617.2 254.6L618 255.2L618.6 256L619.5 256.5M621.2 259.8L621.7 260.6L622 261.4" stroke="#fff" stroke-width="0.7" stroke-linecap="round" stroke-linejoin="round" fill="none" clip-path="url(#c13)"/>
<path d="M608.4 270.7L607.8 270.5M614.9 259.3L616.8 260.9M609.5 258.4L610.6 258.4M612.7 251.8L614.9 252.5M620.8 260.5L621 261M613.6 257.9L614.6 258.6M619.2 268.7L619.9 269.1M615.5 267.2L615 267.9M614 274.7L614 276.9M609.3 270.5L606.7 269.6M614.8 257.2L616.4 258.7M609.8 260.2L611.3 260.4M616.7 263L616.7 264.2M611 271.4L612.9 272M613.2 256.8L615.3 258.4M611.8 260.6L612.5 261M611.7 258L612.9 258.5M621.1 263.9L621.1 264.4M610 272.7L608.9 272.6M613.7 261.4L614.5 263.6M618 267.1L617.7 267.9M614.5 254.1L616.1 255M604.4 256.9L606.5 255.6M601.1 266L600.1 266.1M609.9 266.4L608.3 265.7" stroke="#fff" stroke-width="0.9" stroke-linecap="round" fill="none" clip-path="url(#c13)"/>
<path d="M602.5 247L615.5 247L615.2 252.2L610 252.6L603 252.8Z" fill="#fff" clip-path="url(#c13)"/>
<path d="M609 240.9h0M603.6 248.1h0M608.2 247.8h0M610.3 247.5h0M614.8 248.1h0" stroke="#4e4e4e" stroke-width="2.1" stroke-linecap="round" fill="none" clip-path="url(#c13)"/>
<path d="M602 256.2C602.9 255.6 603.8 254.8 604.7 254.5C605.7 254.3 606.8 254.6 607.9 254.8C609 254.9 610.6 255.2 611.5 255.5C612.3 255.7 612.5 255.8 613 256.2C613.5 256.6 614 257 614.4 258C614.7 259.1 614.7 261.2 615.1 262.6C615.4 264 616.2 265.2 616.3 266.3C616.4 267.4 616.1 268.3 615.6 269.2C615.2 270.1 614.5 270.9 613.7 271.8C612.8 272.8 611.6 274 610.5 274.9C609.5 275.7 608.2 276.6 607.5 277.2C606.7 277.8 606.6 278.4 606.1 278.4C605.6 278.4 605.6 277.7 604.6 277.1C603.6 276.4 601.8 275.2 600.3 274.5C598.8 273.8 597.2 273.2 595.8 272.8C594.5 272.3 592.5 272.2 592.1 271.9C591.7 271.6 593 271.8 593.4 271C593.8 270.2 594.2 268.4 594.6 266.9C595 265.4 595.5 263.2 595.8 262.1C596.2 261 596.3 260.9 596.8 260.3C597.4 259.6 598.3 259.1 599.2 258.4C600 257.8 601.1 256.9 602 256.2Z" fill="#f54444" clip-path="url(#c13)"/>
<path d="M601.8 254.6h0M603.2 255.6h0M602.6 254.2h0M603.3 254.3h0M603.6 254.1h0M603.7 254.3h0M604.3 254.3h0M604.6 254.6h0M605.1 252.8h0M606.7 254.4h0M607.1 254h0M607.5 254h0M609.6 253.8h0M609.6 255.1h0M610.1 255.2h0M610.5 255h0M611.2 254.2h0M611.7 254.5h0M611.6 256.1h0M612.2 255.6h0M613.2 254.8h0M614.1 254.8h0M613.2 257.2h0M614.1 256h0M615.1 256.1h0M615.1 257.4h0M615.5 257.4h0M615.4 257.8h0M615.1 258.3h0M614.5 258.7h0M614.4 259.1h0M614.9 259.4h0M615.1 260.7h0M615 260.8h0M615.1 261.9h0M614.5 262.2h0M615.5 262h0M616.4 262.7h0M615.1 263.9h0M615.8 264.2h0M616.2 264.8h0M617.5 265.1h0M616 266h0M618 265.5h0M616.1 266.6h0M615.9 267.1h0M617.7 266.8h0M616.6 267.1h0M618 267.9h0M616.9 268.8h0M617.1 269.3h0M617.9 269.6h0M616.3 269.5h0M616.2 270.4h0M615.7 270.1h0M615.9 271h0M614.1 270.7h0M614.5 271.1h0M614.9 273.4h0M613.9 272.4h0M614 273.3h0M612.5 272.6h0M611.8 273.2h0M612.4 274h0M611.7 273.9h0M611.7 275.8h0M611.8 276.6h0M610.8 276.7h0M609.6 276.2h0M609.1 275.7h0M609.8 276.6h0M607.9 276.8h0M608 278.5h0M606.8 278.4h0M605.9 278.8h0M605.9 279.9h0M605.9 278.5h0M605.9 278.4h0M605.1 279.1h0M604.3 278.5h0M604.8 277.1h0M603.4 276.1h0M602.3 275.7h0M600.9 276.7h0M600.8 275.4h0M600.8 275.4h0M599.4 276.1h0M599.1 275.3h0M598.4 275.4h0M597.9 273.6h0M596.5 274.9h0M595.8 272.7h0M594 273.3h0M594.1 273.1h0M593.5 271.9h0M593.1 272.3h0M592.4 271.7h0M592.1 272.5h0M591 272.8h0M592 271.9h0M592.1 272.3h0M592.5 272.6h0M590.8 273.2h0M591.5 272.9h0M592 272.1h0M593.1 271.8h0M594.4 270.6h0M591.7 269.7h0M592.5 269.1h0M592.4 268.2h0M592.8 268.4h0M594.1 267.6h0M594.6 265.9h0M593.1 264.5h0M593.6 263.7h0M594.5 263.3h0M594.1 262.2h0M593.9 261.8h0M594.8 261.9h0M596.5 261.5h0M596.8 260.8h0M596.4 260h0M595.8 258.9h0M596.3 259.5h0M596 258.9h0M596.4 258h0M597.6 257.8h0M598.5 257.2h0M600 257.5h0M599.3 256.1h0M600.9 257.5h0M600.4 256.1h0M601.2 255.2h0M610.1 252.8h0M617.3 262.1h0M618.7 263.1h0M618.2 268.4h0M617 272h0M615.3 273.7h0M614.3 274.9h0M612.2 276.4h0M610.2 277.9h0M608.8 279.1h0M605.4 280.2h0M603.8 279.6h0M597.8 275.6h0M594.7 274.8h0M592.2 265.6h0M592.6 264.9h0M593.8 260.3h0" stroke="#f54444" stroke-width="2.2" stroke-linecap="round" fill="none" clip-path="url(#c13)"/>
<path d="M590.4 261.6h0M588.7 267h0" stroke="#f54444" stroke-width="2.5" stroke-linecap="round" fill="none" clip-path="url(#c13)"/>
<ellipse cx="82.4" cy="386.4" rx="19.5" ry="19.3" fill="#4e4e4e" clip-path="url(#c20)"/>
<path d="M102 386.4h0M101.8 387.2h0M102 387.9h0M101.8 388.7h0M101 389.4h0M101.4 390.2h0M101.5 391h0M101.1 391.7h0M101.1 392.5h0M100.6 393.1h0M100.3 393.8h0M99.6 394.4h0M100 395.4h0M98.4 395.4h0M99.3 396.8h0M98.6 397.3h0M98.1 397.9h0M98.1 398.8h0M97 398.9h0M96.7 399.7h0M96.1 400.2h0M95.2 400.4h0M94.7 401h0M93.9 401.2h0M93.4 401.8h0M93 402.6h0M92.1 402.6h0M91.6 403.2h0M91 403.7h0M90.1 403.6h0M89.4 403.9h0M88.8 404.5h0M88.1 404.9h0M87.4 405h0M86.6 405h0M85.9 405.4h0M85.1 405.2h0M84.3 405.5h0M83.6 405.8h0M82.8 406h0M82 405.3h0M81.2 405.7h0M80.5 405.2h0M79.7 405.3h0M78.9 405.5h0M78.2 405.1h0M77.3 405.3h0M76.6 404.9h0M75.7 405.1h0M75.2 404.4h0M74.3 404.4h0M73.9 403.5h0M73.1 403.4h0M72.6 402.8h0M71.9 402.4h0M71 402.4h0M70.6 401.5h0M69.9 401.2h0M69.7 400.3h0M68.8 400.1h0M68.5 399.3h0M67.7 399.1h0M67 398.6h0M66.9 397.7h0M66.1 397.3h0M66.1 396.5h0M66 395.7h0M65.1 395.2h0M65.4 394.3h0M65 393.6h0M64.2 393.2h0M63.8 392.5h0M64 391.6h0M63.6 390.9h0M63.5 390.2h0M63.6 389.4h0M63.2 388.7h0M63.6 387.9h0M62.4 387.2h0M62.6 386.4h0M63.5 385.7h0M63 384.9h0M62.9 384.1h0M63.1 383.3h0M63.1 382.6h0M64.2 382h0M64.3 381.3h0M64.4 380.5h0M64 379.6h0M64.6 379h0M65 378.3h0M65.1 377.6h0M65.1 376.7h0M65.7 376.1h0M66.1 375.4h0M66.8 375h0M67.2 374.4h0M67.5 373.6h0M68.3 373.2h0M68.9 372.7h0M69.7 372.5h0M70 371.7h0M71 371.7h0M71 370.5h0M71.9 370.4h0M72.1 369.3h0M72.9 369.2h0M74.1 369.6h0M74.8 369.4h0M75.3 368.6h0M76.1 368.7h0M76.7 368h0M77.3 367.5h0M78.2 367.7h0M78.8 366.7h0M79.7 367.3h0M80.5 367.4h0M81.2 366.8h0M82 366.9h0M82.8 366.5h0M83.6 366.9h0M84.4 367h0M85.1 367.2h0M85.9 367.2h0M86.6 367.8h0M87.5 367.5h0M88 368.2h0M89 367.9h0M89.7 368.1h0M90.2 368.9h0M90.8 369.5h0M91.6 369.6h0M92.3 369.9h0M93.1 370.2h0M93.7 370.6h0M94.3 371.1h0M95.2 371.2h0M95.6 371.9h0M95.7 373h0M96.5 373.2h0M97.2 373.6h0M97.9 374.1h0M98.1 374.9h0M99 375.2h0M98.6 376.4h0M98.8 377.2h0M99.9 377.5h0M100 378.3h0M100.3 379h0M100.3 379.8h0M101.4 380.2h0M100.6 381.2h0M101.2 381.9h0M101.3 382.6h0M101.3 383.4h0M101.8 384.1h0M102 384.9h0M101.3 385.7h0" stroke="#4e4e4e" stroke-width="1.7" stroke-linecap="round" fill="none" clip-path="url(#c20)"/>
<path d="M99.9 387L99.6 387.9L99.8 388.9M99 391.7L98.7 392.8L98.1 393.7L97.6 394.7L97 395.6M96 397.3L95.1 398.3L94 399M92.1 401L91.1 401.6L89.8 401.6M87 403L86.1 403.2L85 403.3L84 403.5M80.8 403.5L79.6 403.5L78.5 402.8L77.2 402.7L76.1 402.1M74.7 401.4L73.5 401.5L72.7 400.8L72 400M71 399.2L70.2 398.5L69.4 397.7L68.6 396.9L67.8 396M66.7 394L66.4 393L66 392L65.5 391.1L65.5 390M65.1 386.5L64.9 385.5L65 384.4L65.2 383.3L65.5 382.3M66.4 379.6L67.1 378.8L67.4 377.7M69.7 374.9L70.1 373.8L71.2 373.4L72.1 372.9L73 372.2M75.7 370.5L76.8 370.1L78 369.9L79.1 369.6M80.5 369.5L81.5 368.8L82.5 369.6L83.6 369.2L84.6 369.4M85.7 369.5L86.9 369.9L88.1 370.5L89.4 370.8M92.6 372.5L93.6 373.2L94.6 373.8L95.2 375L96.1 375.8M96.9 377.3L97.6 378.4L98.3 379.4L99 380.6M99.3 381.6L99.5 382.8L99.5 384L99.5 385.2M99.9 386.2L100 386.3L99.8 386.4" stroke="#fff" stroke-width="0.7" stroke-linecap="round" stroke-linejoin="round" fill="none" clip-path="url(#c20)"/>
<path d="M94.3 388L94.2 389L93.8 390L93.6 391L93.1 391.9M91.1 394.8L90.1 395.6L89.3 396.5L88.2 396.9L87.2 397.6M84.9 398.2L83.7 398.4L82.4 398.5M80.2 398L79.1 397.5L78 397.3L76.8 396.9L75.8 396.3M74.3 395.4L73.6 394.4L72.8 393.6L71.9 392.7L71.4 391.7M70.7 390.3L70.5 389.3L70.5 388.3L70.3 387.3L70.4 386.3M70.9 382.8L71.1 381.5L71.9 380.5L72.8 379.5M74.1 377.6L75 376.9L75.9 376.3L76.9 375.9L77.8 375.3M78.9 375L80.1 374.7L81.3 374.4L82.5 374.4M84 374.5L85.3 374.8L86.6 374.9L87.6 375.8M88.8 376.2L89.8 376.9L90.7 377.6L91.3 378.6M92.2 379.3L92.7 380.2L93.3 381.1L93.8 382.1L94 383.1M94.7 385.6L94.4 386L94.5 386.4" stroke="#fff" stroke-width="0.7" stroke-linecap="round" stroke-linejoin="round" fill="none" clip-path="url(#c20)"/>
<path d="M94 393.3L93.7 393.7M86.8 390.8L85.8 391.6M75.3 401.7L75.6 401.8M76.4 383.1L76.4 383.4M98 383.9L98.2 385.7M78.3 397.2L76 396.1M67.5 394.5L66.8 393.1M88.1 402.3L87.8 402.3M86.8 370.5L88.6 371.1M86 368.8L85 370.9M81.4 402.7L81.7 403.7M87.2 402L86.3 402.2M91.4 377.2L91.8 378M82.6 402.3L84.3 404M75 394.2L74.2 393.4M79.6 370.3L81.3 370.1M85.3 374.9L85 376.4M78.6 401.4L78.2 401.3M83.4 369.2L83.5 370.1M87.3 382L88.1 383.2M66 382L66.3 381M79 374.4L81.1 375.6M75.2 383.1L75.2 384.7M79.5 397L79.4 398.3M66.1 391.1L66.4 391.9M88.5 391.3L86.8 392.1M83.8 391.2L83.6 392.8M89.6 390.6L90.2 391.4M97.1 377.6L95.3 378M71 384.4L71.4 382.7M99 384L98.3 384.6M72 384L72.6 382.3M86.8 401.1L88.1 401.8M69.7 376.9L71.4 375M79 390L78.4 392.5M95.2 396.4L95.1 396.6M70.4 392.8L70.6 393M81.4 399.2L81.6 399.4M97.8 380.1L98.8 381.1M89.9 375.8L91.9 377.6M81.2 400L78.9 399.6M91 397.9L90.1 398.5M83.2 403.2L80.8 403.2M86.7 402.5L84.9 403.2M92.1 387.8L92.2 388.1M90.5 397.7L92.2 399.8M96.1 384.1L97.1 384.2M97.2 380.7L95.7 381.1M74.7 396.9L74.1 396.5M91.4 373.9L91.6 373.9M82.8 395.5L81.3 395.4M85.3 391.8L84.3 392.2M86.2 391.1L84.9 392M97.4 389.4L96.3 391.3" stroke="#fff" stroke-width="0.9" stroke-linecap="round" fill="none" clip-path="url(#c20)"/>
<circle cx="82.4" cy="386.4" r="2.4" fill="none" stroke="#fff" stroke-width="1.5" clip-path="url(#c20)"/>
<circle cx="82.4" cy="386.4" r="0.9" fill="#4e4e4e" clip-path="url(#c20)"/>
<path d="M80.5 438.2C80.6 438.2 81.3 439.5 82.1 440C82.9 440.6 84.5 440.8 85.4 441.6C86.2 442.3 86.1 443.4 87.1 444.3C88.1 445.3 90.3 446.7 91.3 447.4C92.4 448.2 93 448 93.6 448.8C94.2 449.6 94.6 450.8 95.1 452C95.5 453.2 95.5 454.7 96.2 456C96.8 457.3 98.3 458.5 99 459.9C99.8 461.3 100.2 462.7 100.8 464.2C101.3 465.7 101.7 467.1 102.2 468.8C102.7 470.5 103.2 473.2 103.6 474.5C104 475.7 104.6 475.8 104.6 476.2C104.5 476.5 104.1 476.3 103.5 476.4C102.8 476.6 101.3 477.4 100.7 477.1C100.1 476.7 100.5 475.4 99.9 474.3C99.3 473.2 97.9 472 97.2 470.6C96.4 469.2 96.1 467.5 95.3 465.9C94.5 464.3 93.2 462.4 92.2 460.9C91.2 459.4 90.2 458.2 89.3 457C88.3 455.7 87.5 454.7 86.6 453.3C85.6 451.9 84.7 450.2 83.7 448.6C82.8 447 81.1 445.1 80.7 443.6C80.3 442.2 81.3 440.8 81.3 439.9C81.2 439 80.4 438.2 80.5 438.2Z" fill="#f54444" clip-path="url(#c20)"/>
<path d="M80.8 437.9h0M79.4 437.4h0M80.3 437h0M80.1 438.3h0M80.9 438.3h0M82.1 437.6h0M81.3 439.5h0M82.6 439.1h0M82.8 439.7h0M83.4 441h0M85.7 440h0M86.3 440h0M85.7 441h0M86.1 441.1h0M86.8 440.4h0M86.5 441.3h0M85.2 442.5h0M85.3 443.3h0M86.8 444.2h0M87.1 443.7h0M88.6 445.8h0M90.3 444.4h0M89.4 445.2h0M91.1 446.3h0M91.7 445.6h0M92 446.5h0M91.4 447.7h0M91.7 447.9h0M92.8 447.7h0M93.9 447.2h0M94.1 447.9h0M94.6 447.7h0M95 448.4h0M93.6 449.7h0M94.9 449.5h0M94.2 451h0M95.7 450.2h0M95.1 451.4h0M96.7 451.2h0M95.4 452.6h0M96.7 452.5h0M95.3 453.4h0M97.4 453.7h0M96.4 454.8h0M95.9 455.1h0M96 456.2h0M96.2 457.5h0M97.1 457.3h0M98.1 457.7h0M98.9 457.6h0M98.3 459.1h0M99.4 459.4h0M99.6 460.1h0M100.9 460.4h0M100.7 460.5h0M100.5 462h0M101.6 462.9h0M101.6 463.4h0M100.1 464h0M101.7 465h0M103 465.4h0M101.7 466.9h0M101.9 467.5h0M103.3 467.7h0M103.2 467.6h0M102.6 468h0M103.6 470.9h0M102.3 471.5h0M104.7 471.8h0M104.3 471.7h0M104.9 472.3h0M103 473.6h0M104.7 474h0M103.6 476.5h0M106.1 476.2h0M105.8 476.9h0M104.8 476h0M104.6 475.5h0M104.7 476h0M105.3 477.7h0M102 476.4h0M101.8 477.3h0M100.2 476.8h0M100.4 478.2h0M100 478.5h0M99.4 478.2h0M100.5 477.2h0M100.2 476.8h0M99.4 476.7h0M99.1 475.4h0M99.4 474.8h0M98.4 474.6h0M98.1 473.9h0M97.8 473.1h0M98.5 472.5h0M97.1 473.4h0M97.1 472.2h0M97.4 471.6h0M96.4 471h0M95.9 470.3h0M97.1 470h0M97.3 469.1h0M95.4 467.9h0M95.7 467.8h0M96 467h0M95.5 465.7h0M93.6 466.1h0M93.3 464.1h0M92.9 463.5h0M93 463.3h0M92.7 462.5h0M91.2 461.7h0M90.9 461.1h0M90.4 460.7h0M91.2 459h0M90.6 458.5h0M90.4 457.7h0M90.2 457.6h0M88.5 457.6h0M89.9 456.6h0M87.8 456.8h0M88.3 455.2h0M86.9 456.3h0M86.8 455.1h0M86.1 454.4h0M86.1 453.9h0M85.3 452.6h0M85.8 452.4h0M84.6 451.8h0M84.3 451.3h0M85.1 450.6h0M84 450.1h0M83.3 448.5h0M82.5 446.3h0M80.9 445.3h0M81.2 444.5h0M80.1 444.1h0M79.7 444h0M81.1 443.5h0M80.4 443.6h0M79 442.7h0M79.3 442.2h0M79.1 442.2h0M80.2 440.9h0M80.4 440.9h0M81 439.5h0M82 438.9h0M79.7 438.5h0M80.8 437.6h0M81.7 437.5h0M80.7 437.3h0M80.3 436.4h0M80.2 436.5h0M82.2 436.2h0M82.8 438.3h0M84.2 439.3h0M87 440.5h0M88.4 442.4h0M94.2 445.9h0M95.2 447.5h0M97.4 450.8h0M99.1 456.4h0M100.6 458.7h0M102.4 462h0M102.5 463.4h0M105.2 468.1h0M104.7 469.5h0M105.3 472.9h0M105.6 473.6h0M107.4 475.5h0M106.4 476.6h0M105.6 478h0M102.3 479.2h0M99.3 479.7h0M99.3 478.9h0M97.7 475.2h0M95.5 472.1h0M91.6 465.6h0M90.9 463.7h0M90.7 462.5h0M89.7 460.7h0M88.6 459.9h0M85.8 457.3h0M83.7 453.8h0M83.4 452.5h0M82.2 451.1h0M81.7 449.9h0M81.1 448.1h0M78.8 445.6h0M78.7 444.2h0" stroke="#f54444" stroke-width="2.2" stroke-linecap="round" fill="none" clip-path="url(#c20)"/>
<path d="M99.5 447.1h0M101 454.3h0M103.3 457.6h0M103.3 460.5h0M78.6 457.6h0M80.5 458.6h0M83.8 464.8h0M87.1 471h0M89.5 468.6h0M82.4 453.8h0" stroke="#f54444" stroke-width="2.5" stroke-linecap="round" fill="none" clip-path="url(#c20)"/>
<ellipse cx="236" cy="462.8" rx="17.9" ry="19.1" fill="#4e4e4e" clip-path="url(#c21)"/>
<path d="M254.1 462.8h0M253.8 463.6h0M253.3 464.3h0M253.8 465.1h0M253.6 465.9h0M254 466.7h0M253.4 467.4h0M253.1 468.1h0M252.7 468.8h0M252.6 469.5h0M252 470.1h0M251.9 470.9h0M252.1 471.9h0M251.3 472.3h0M251.2 473.1h0M250.7 473.7h0M250.2 474.2h0M250.2 475.3h0M249.1 475.3h0M248.8 476h0M248.5 476.8h0M247.5 476.8h0M247.2 477.6h0M246.9 478.5h0M246.1 478.6h0M245.6 479.2h0M244.6 479h0M244.1 479.5h0M243.5 480h0M242.7 480h0M242.3 481h0M241.5 480.9h0M240.8 481.2h0M240 480.9h0M239.5 482.1h0M238.7 481.7h0M238 482.2h0M237.3 482.4h0M236.5 481.9h0M235.8 481.5h0M235.1 481.8h0M234.3 482.4h0M233.6 481.8h0M233 481.1h0M232.2 481.5h0M231.5 481.4h0M230.8 481.1h0M230.2 480.7h0M229.3 480.8h0M228.6 480.7h0M228.2 479.8h0M227.4 479.7h0M226.9 479h0M226.3 478.6h0M225.7 478.2h0M224.9 478.1h0M224.3 477.6h0M223.8 477h0M223.1 476.7h0M222.9 475.8h0M222.8 474.8h0M222.1 474.5h0M221.4 474.1h0M221.4 473.2h0M221.2 472.4h0M219.7 472.4h0M220.2 471.2h0M219.8 470.6h0M219 470.1h0M218.7 469.4h0M219 468.5h0M219.1 467.6h0M218.6 467h0M218.7 466.2h0M218.5 465.5h0M217.8 464.8h0M218.3 463.9h0M217.9 463.2h0M218 462.4h0M218.8 461.7h0M218.5 460.9h0M218.5 460.1h0M218.4 459.3h0M218.5 458.6h0M218.5 457.8h0M218.7 457h0M219.4 456.5h0M219.7 455.8h0M220 455.1h0M219.5 454h0M220 453.3h0M220.6 452.8h0M221.2 452.3h0M221.8 451.8h0M222.4 451.3h0M222.9 450.8h0M222.9 449.8h0M223.6 449.5h0M224 448.8h0M224.9 448.7h0M225.1 447.8h0M225.7 447.4h0M226.2 446.8h0M226.9 446.5h0M227.3 445.8h0M228.1 445.6h0M229.2 446.3h0M229.7 445.8h0M230.3 445.5h0M230.8 444.4h0M231.3 443.7h0M232.2 444.2h0M232.9 443.9h0M233.7 444h0M234.4 444.3h0M235.1 443.4h0M235.8 443.8h0M236.5 444.5h0M237.3 444h0M238 443.9h0M238.7 444.2h0M239.4 444.1h0M240 444.8h0M240.8 444.5h0M241.6 444.5h0M242 445.6h0M242.8 445.5h0M243.4 445.9h0M244.2 445.8h0M244.9 446.2h0M245.5 446.7h0M246.2 446.9h0M246.5 447.7h0M247.4 447.8h0M247.6 448.7h0M248.6 448.7h0M248.5 449.9h0M249.1 450.3h0M249.6 450.9h0M250.3 451.3h0M250.3 452.2h0M251.2 452.5h0M251.5 453.2h0M251.7 454h0M252.2 454.6h0M252.3 455.3h0M252.4 456.1h0M252.7 456.8h0M253.3 457.4h0M253.4 458.2h0M254.2 458.8h0M253.4 459.8h0M253.6 460.5h0M253.5 461.3h0M254 462h0" stroke="#4e4e4e" stroke-width="1.7" stroke-linecap="round" fill="none" clip-path="url(#c21)"/>
<path d="M252.2 464L251.8 465.2L251.5 466.4L251.4 467.6L251 468.7M249.9 470.7L249.5 471.6L249.2 472.6L248.5 473.3L248 474.2M246.7 475.4L245.8 476L245.1 477M242.8 478.1L241.8 478.7L240.8 479.1L239.7 479.4M238.4 479.5L237.5 479.3L236.5 479.6L235.6 479.6L234.7 479.8M233 479.4L231.8 479.5L230.8 478.8L229.7 478.7M228 477L226.8 476.6L225.7 475.8M223.2 473L222.6 472L221.8 471.2L221.4 470.1L221.3 469M220.1 466.8L220.1 465.5L220.1 464.2M220.1 463L220.2 461.9L220.3 460.7L220.2 459.6L220.6 458.5M221.6 455L222.3 454.2L222.8 453.4L223.2 452.5M224.6 450.9L225.4 449.9L226.3 449L227.4 448.4M228.2 447.7L229.2 447.3L230.2 446.9L231.1 446.3M232.4 446.1L233.5 445.9L234.6 445.8M238 445.7L238.9 445.9L239.8 446.5L240.8 446.5M242.6 447L243.7 447.8L244.8 448.5M245.8 449.1L246.5 450.1L247.5 450.5L248.1 451.5L248.9 452.3M249.6 453.7L249.9 454.6L250.6 455.4M251.1 457.2L251.5 458.1L251.5 459.1M251.8 462.3L251.9 462.5L252.2 462.8" stroke="#fff" stroke-width="0.7" stroke-linecap="round" stroke-linejoin="round" fill="none" clip-path="url(#c21)"/>
<path d="M247.3 464.4L246.9 465.6L246.5 466.8L245.9 468M244.2 470.8L243.6 471.7L242.7 472.2L241.8 472.7L241.1 473.4M239.7 474L239 474.1L238.3 474.4M234.7 474.4L233.7 474.3L232.8 474L231.8 473.9M229 471.9L228.2 471.3L227.4 470.5M226.4 468.6L225.8 467.6L225.5 466.4L225 465.4L224.7 464.2M225 461.1L225.2 459.9L225.3 458.6L225.9 457.5L226.8 456.6M227.1 455.6L227.8 454.7L228.5 453.7L229.5 453.2L230.5 452.5M232.8 451.5L234 451.1L235.3 450.9L236.5 450.9M238.2 451.2L239.2 451.4L240.3 451.8L241.3 452.2M242.9 453.5L243.6 454L244.1 454.7M245.3 456.1L245.7 456.9L246.1 457.7M247 461.2L246.9 462L247.1 462.8" stroke="#fff" stroke-width="0.7" stroke-linecap="round" stroke-linejoin="round" fill="none" clip-path="url(#c21)"/>
<path d="M237.9 447.7L239.2 447.9M245.5 472.8L245.4 473.7M220.8 463.9L220.8 464.2M221.5 461.9L220.7 463.5M227.2 475.1L225.3 476.5M251.2 456.7L250.3 457.8M245.2 448L242.8 449M230.2 469.4L229.3 468.5M227.8 476.1L227.3 475.7M225.3 463.9L225.1 464.4M221.3 457.1L221.4 456.9M235.8 446.1L237.5 446.2M221 464.4L220.3 466M228.1 460.3L228.5 459.1M249.7 470.8L249.6 471M248 452.4L249 453.3M240.9 456.5L241.5 457M237.1 446.6L238 446.6M249 471.7L249 472.4M240.2 472.1L238.8 472.7M229.2 451.3L231 450.4M220.5 464.3L220.4 462.2M231.8 453.3L232.4 453M241.9 450.4L242 450.7M242.8 449.3L244.4 450.3M243.8 464.3L243.3 465.9M233.9 453.7L234.3 455.6M242 455.6L241.9 456.1M224.5 451.5L224.8 451.3M240.5 473.9L240.7 474.2M228.6 473.6L227.2 472.4M247.7 472.1L248 473M240.6 446.9L242.4 447.6M243.8 472.9L241.8 474.2M237 452.2L239.5 452.8M234.3 468.8L233.2 468.4M230.6 447.1L230.9 447.2M248.4 457.4L248.9 460.1M234.4 448.9L232.1 450.1M242.5 461.6L241.4 462M231.8 455.7L232.7 455.2M251.5 460.6L251.7 462.8M231.3 447.4L233.5 446.8M230.6 466.1L231.5 467.3M241.1 469L238.8 470.4M242.6 467.8L242.4 468.1M223.8 453.7L221.9 454M244.7 465.7L245.1 466M232 453.6L230.5 453.6M226.9 460.6L226.9 463.1M229.1 462.6L231.3 463M244.9 466.5L243.8 468.6M229.5 458.1L230.2 457.3M248.7 472.6L247.4 474.2M228.3 463.6L226 464.5M222.6 455.1L221.3 455.9M235.9 478.2L234.5 480.6M224 466L223.6 466.8" stroke="#fff" stroke-width="0.9" stroke-linecap="round" fill="none" clip-path="url(#c21)"/>
<circle cx="236" cy="462.8" r="1.8" fill="none" stroke="#fff" stroke-width="1.2" clip-path="url(#c21)"/>
<circle cx="236" cy="462.8" r="0.9" fill="#4e4e4e" clip-path="url(#c21)"/>
<path d="M246.7 439.3C246.8 438.9 246.7 438.2 247.1 438.4C247.5 438.6 247.8 439.9 249 440.5C250.1 441.1 252.1 441.6 253.7 442C255.3 442.3 257.4 442.2 258.6 442.3C259.7 442.5 260 442.5 260.7 443.1C261.5 443.7 262 445 263.1 445.9C264.2 446.8 266.5 448.1 267.4 448.5C268.3 449 268.1 448 268.4 448.6C268.6 449.3 268.3 451.2 268.9 452.3C269.5 453.4 271.2 454.3 271.8 455.3C272.4 456.3 272.3 457.1 272.7 458.5C273.2 459.9 274.4 462.2 274.6 463.7C274.9 465.2 274.3 466.6 274.3 467.5C274.2 468.3 274.6 468.9 274.4 468.8C274.2 468.8 273.9 467.6 273.1 467.2C272.2 466.8 270.7 466.5 269.4 466.3C268.1 466 266.5 465.7 265.4 465.5C264.2 465.2 263.4 465.1 262.4 464.8C261.4 464.4 260.5 463.7 259.4 463.2C258.3 462.8 256.7 462.6 256 462.1C255.4 461.6 255.9 461.3 255.6 460.1C255.3 458.9 255.1 456 254.2 455C253.3 453.9 251 454.6 250.3 454C249.7 453.4 250.6 452.7 250.2 451.6C249.7 450.5 248.4 448.8 247.7 447.5C247.1 446.2 246.6 445.2 246.4 444.1C246.1 443 246.3 441.6 246.4 440.8C246.4 440 246.5 439.7 246.7 439.3Z" fill="#f54444" clip-path="url(#c21)"/>
<path d="M245.1 438.3h0M245.6 438.4h0M246.4 438.7h0M247.3 438.4h0M246.7 437.3h0M247.4 437.2h0M246.9 437.8h0M246.6 437.9h0M247.5 436.9h0M247.1 438.2h0M248 438.5h0M248.6 438.6h0M248.5 439.2h0M250 439.5h0M250.3 441.1h0M253.3 440.5h0M255.3 441.6h0M255.4 440.7h0M256.3 442h0M257.1 442.6h0M257.9 440.8h0M258.1 443.1h0M258.1 442.3h0M258.7 441.9h0M260.2 442.5h0M261.6 441.5h0M261.3 443.6h0M262.3 443.7h0M263.2 443.9h0M262.4 444.8h0M263.8 444.6h0M264.3 446.7h0M265.4 445.8h0M265.3 446.7h0M265.5 447.4h0M266.8 447.1h0M266.7 448.6h0M268.6 447.7h0M269.4 448.2h0M269.8 448.3h0M269.7 448.2h0M269.4 448.1h0M268.9 448.9h0M270.1 448.7h0M270 449.7h0M268.6 450.7h0M268.6 452.3h0M270.1 453.9h0M271.1 454.1h0M271.1 454.1h0M271.2 454.8h0M272.5 454.2h0M272.5 455h0M272.7 455.5h0M272.8 454.9h0M272.9 455.4h0M271.6 456.5h0M272.2 457.9h0M272.3 458.6h0M274 458.6h0M274.1 459.3h0M273.7 460.4h0M275.1 460.1h0M273.9 460.8h0M274 462.1h0M274.8 462.3h0M274.9 462.6h0M275.4 462.8h0M274.8 464.4h0M274.8 464.8h0M275.6 465.5h0M275.3 465.6h0M274.4 465.5h0M274.3 466.6h0M274.2 467.4h0M274.3 467.4h0M275.5 469.2h0M273.6 469h0M273.7 469.2h0M274.5 468.7h0M275 469.6h0M275.6 469.3h0M275.1 470h0M275.1 469.5h0M275.1 468.3h0M273.6 469.1h0M273.8 467.9h0M272.4 468.5h0M271.6 468.8h0M271.1 468.2h0M270.8 466.7h0M270.4 467h0M269.9 466.4h0M268.8 466.8h0M268.4 466.4h0M267.7 466.5h0M266.5 465.6h0M265.7 466.3h0M266 465.9h0M265.4 466.6h0M265.6 465.1h0M264 465.2h0M263.3 465h0M261.8 465.3h0M261.7 464.8h0M260.3 464.6h0M258.2 464.8h0M258.8 464h0M257.3 462.1h0M256.3 463.5h0M256.3 463.1h0M256.3 461.8h0M255.3 462.6h0M255.3 462.5h0M255.5 462.9h0M256.6 462.2h0M255.9 461.8h0M254.5 461.3h0M254 460.6h0M253.9 460.1h0M255.3 459.8h0M255 459.1h0M255 458.4h0M253.6 457.8h0M254.6 457.1h0M254 456.6h0M253.4 455.2h0M251.2 455h0M250.9 454.2h0M250.4 453.6h0M249.8 454.6h0M249.7 454.6h0M249.7 454.8h0M249.3 455h0M250.1 453.9h0M250.9 453.8h0M250.3 452.7h0M249.5 451.7h0M249.2 449.9h0M248 450.3h0M248.8 449.2h0M247.1 449.5h0M246.7 449.2h0M246.5 448.2h0M247.4 447.7h0M247.3 447.2h0M246.9 446.8h0M246.3 446h0M246.9 446.2h0M246.3 445.7h0M246.1 445.4h0M246 443.1h0M245.6 443.2h0M245.4 442.6h0M245.3 441.9h0M246.5 441.2h0M246.3 440.9h0M246.2 439.9h0M244.7 438.9h0M245.7 439.1h0M247.2 435.8h0M248.3 437.3h0M249.7 438.1h0M254.2 439.2h0M257.4 439.9h0M258.8 439.5h0M268.7 446.3h0M270.4 451.4h0M272.6 452.3h0M275.5 458.4h0M277 463.6h0M277 466.8h0M276.4 468.1h0M272.1 470h0M270.2 469h0M264.7 467.9h0M263.2 467.7h0M261.4 466.8h0M258.3 465.9h0M256 464.4h0M253.6 464.2h0M253.6 461h0M252.5 456.8h0M250.4 456.1h0M248 454.9h0M247.7 452.2h0M247.2 451h0M244.2 446h0M244 444.3h0M243.8 442.7h0M244.1 438.5h0" stroke="#f54444" stroke-width="2.2" stroke-linecap="round" fill="none" clip-path="url(#c21)"/>
<path d="M255.8 467.7h0M262.3 468.1h0M258.5 438.5h0M267 444h0" stroke="#f54444" stroke-width="2.5" stroke-linecap="round" fill="none" clip-path="url(#c21)"/>
<ellipse cx="432.3" cy="439" rx="15.7" ry="15.7" fill="#4e4e4e" clip-path="url(#c22)"/>
<path d="M448.1 439h0M447.9 439.8h0M447.7 440.5h0M448.1 441.3h0M447.3 442h0M447.5 442.8h0M447.6 443.6h0M446.8 444.2h0M446.8 445h0M446.1 445.5h0M446.3 446.5h0M445.7 447h0M445.3 447.7h0M444.9 448.4h0M444.1 448.7h0M443.9 449.5h0M443.1 449.8h0M442.6 450.3h0M442.3 451.2h0M441.6 451.5h0M440.4 451.1h0M440.2 452.2h0M439.8 453h0M438.9 452.9h0M438.4 453.7h0M437.8 454.5h0M436.9 454.3h0M436.1 454.1h0M435.4 454.7h0M434.6 454.3h0M433.8 454.6h0M433.1 454.3h0M432.3 454.1h0M431.6 454.2h0M430.8 454.4h0M430 454.6h0M429.3 453.9h0M428.6 454h0M427.6 454.6h0M426.9 454.1h0M426.3 453.4h0M425.6 453.2h0M425.1 452.5h0M424.5 452h0M423.4 452.3h0M422.7 451.9h0M422.2 451.3h0M421.5 450.9h0M421.3 450h0M421 449.3h0M420 449.1h0M419.8 448.3h0M419.2 447.7h0M418.3 447.4h0M418.6 446.3h0M418.5 445.5h0M417.2 445.3h0M418 444.1h0M416.7 443.7h0M416.4 443h0M417.3 442h0M417.1 441.2h0M417 440.5h0M416.8 439.8h0M416.9 439h0M417 438.2h0M416.7 437.5h0M416.9 436.7h0M417.3 436h0M417.6 435.3h0M417 434.4h0M417.6 433.8h0M417.9 433h0M418.6 432.5h0M418.4 431.6h0M419 431h0M419.6 430.5h0M419.8 429.7h0M420.1 429h0M420.9 428.7h0M421.4 428.1h0M421.9 427.5h0M422.2 426.7h0M423 426.4h0M423.5 425.8h0M424.4 425.7h0M425.2 425.7h0M425.5 424.6h0M426.2 424.3h0M427.2 424.8h0M427.6 423.7h0M428.5 424h0M429.3 423.7h0M430 423.6h0M430.8 423.8h0M431.5 423.5h0M432.3 423.6h0M433.1 422.7h0M433.8 423.3h0M434.5 423.9h0M435.3 423.7h0M436.1 423.9h0M436.9 424h0M437.5 424.6h0M438.3 424.5h0M438.8 425.2h0M439.9 424.7h0M440.3 425.7h0M441.1 425.9h0M441.4 426.7h0M441.7 427.5h0M442.8 427.4h0M443.6 427.7h0M443.3 429h0M444 429.4h0M444.9 429.7h0M445.4 430.3h0M445.5 431.1h0M446.3 431.5h0M446.1 432.5h0M447.2 432.8h0M447.1 433.7h0M447.1 434.5h0M447.6 435.2h0M447.9 435.9h0M447.6 436.7h0M448.1 437.4h0M448.1 438.2h0" stroke="#4e4e4e" stroke-width="1.7" stroke-linecap="round" fill="none" clip-path="url(#c22)"/>
<path d="M435.1 435.8L436.3 437.8M439.4 427.7L439.1 427.8M418.9 435.7L419.3 434.3M429.2 436.5L431 435.2M431.9 432L434.4 432.3M443.9 444.3L444.2 444.6M442.6 437.7L442.8 438.4M427.9 447.9L425.8 446.4M422.3 439.5L422.3 437.8M419.4 434.1L419.6 433.8M429.7 438.6L431.3 440.4M431.8 451.9L429.3 451.6M433.3 452.8L432 452.8M424.6 443.5L424.7 446.1M439.3 435.6L436.9 436.1M418.6 439L418.5 439.2M443.1 445.9L444.3 447.5M420.5 437.4L420.6 437M430.1 445.5L428.8 444.9M439 431.6L439.2 431.8M426 428L428.3 427M440 442.2L438.5 444.6M444.3 431L444 433.1M441.3 449.1L441.6 449.5M430.6 425.3L432.4 426.5M432.2 449L431.1 449M445.3 439.1L445.3 439.6M437.8 427.6L438.4 427.9" stroke="#fff" stroke-width="0.9" stroke-linecap="round" fill="none" clip-path="url(#c22)"/>
<path d="M428.7 453.1C429.1 452.2 430.2 450.8 430.9 449.9C431.6 449 432.2 448.3 433 447.7C433.7 447.1 434.8 446.5 435.6 446.2C436.3 445.9 436.8 445.7 437.5 445.8C438.3 445.9 439.1 446.5 440 446.8C441 447.2 442.1 447.9 443.3 448C444.5 448.1 446.8 447.8 447.2 447.4C447.7 447 446.2 445.3 446 445.7C445.8 446.1 445.1 449 445.9 449.8C446.8 450.6 450.6 451 451.3 450.7C452 450.4 451 448 450.2 447.9C449.4 447.8 447.7 448.8 446.4 450.1C445.2 451.4 442.4 454.7 442.7 455.8C443 456.9 447.4 456.5 448.5 456.7C449.6 456.9 449.1 457.2 449.2 457C449.3 456.8 449.5 455.6 449.1 455.7C448.7 455.7 447.5 456.5 446.8 457.2C446.1 457.9 445.7 459 444.9 459.8C444.1 460.6 442.7 461.5 442 462C441.4 462.5 441.9 462.9 441 462.8C440.1 462.7 438.2 461.8 436.9 461.6C435.6 461.4 434.1 461.5 433 461.6C432 461.7 431.3 462.4 430.7 462.3C430 462.1 430.1 461.6 429.2 460.9C428.2 460.1 426.6 458.4 425.2 457.9C423.9 457.4 421.7 457.4 421.1 457.8C420.4 458.2 421.2 459.9 421.5 460.3C421.8 460.7 421.9 460.5 422.8 460.3C423.6 460 425.5 459.6 426.5 458.8C427.5 458 428.4 456.3 428.8 455.3C429.2 454.4 428.3 454 428.7 453.1Z" fill="#f54444" clip-path="url(#c22)"/>
<path d="M428.6 452.7h0M428.6 452.8h0M429 452.4h0M429.2 452.1h0M428.1 451h0M429.5 451.5h0M429.7 450.5h0M432.2 448.9h0M431.8 447.8h0M432.6 448.7h0M431.9 447.4h0M432.9 448.2h0M432.8 446.3h0M433.6 445.6h0M433.7 447h0M434.6 446.7h0M434.7 445.6h0M434.9 444.6h0M436.4 444.6h0M436.6 445.5h0M437.3 444.5h0M437.9 445.9h0M438 444h0M437.5 446.1h0M439 445.9h0M439.5 446.7h0M440.6 445.5h0M440.1 446.9h0M441.9 445.6h0M442 448.4h0M443 446.7h0M443.8 448.3h0M444.7 447.4h0M445.4 448h0M446.2 447.1h0M447.4 447.4h0M447.8 446.9h0M447.3 446h0M446.3 445.7h0M447.3 445.1h0M447.2 445.5h0M445.4 447h0M447.9 450.5h0M448 451.2h0M449.9 449.4h0M450.9 449.9h0M451 449.4h0M451.8 448.9h0M450.8 448.5h0M450.5 447.8h0M450.3 448.2h0M450.5 449.4h0M449.3 448.4h0M448.1 450.3h0M447.4 449.6h0M447.1 449.6h0M446.4 450.3h0M445.8 450.5h0M445.3 450.6h0M445 452h0M445.5 453.6h0M444.4 453.8h0M443.8 454h0M444 455.8h0M445.4 456.3h0M446.6 456.6h0M447.9 455.3h0M448.5 455h0M448.7 455.3h0M449.2 456h0M450.1 454.9h0M449.9 455.7h0M450 456.6h0M450.1 455.6h0M449.8 456.7h0M448.8 455.9h0M449.9 457h0M448.9 456h0M448.4 456h0M447.9 456.8h0M447.5 457.9h0M447.2 458.3h0M444.7 459h0M445 459.5h0M445.2 460.3h0M444.3 460h0M444.5 460.2h0M444.4 461.5h0M444 460.9h0M443.5 462.9h0M442.1 462.6h0M440.6 462.1h0M441.7 463.9h0M441.2 463.9h0M441.3 464.2h0M441.1 464.1h0M439.9 464.1h0M440 464.2h0M439.3 462.9h0M436.6 462.8h0M436.3 461.6h0M435.3 462h0M434.9 463.1h0M434.5 463.2h0M433.8 462.7h0M432.1 463.3h0M431.8 462.3h0M430.8 462h0M430.4 461.7h0M430.7 463.1h0M431.3 461.7h0M429.9 462.8h0M429.2 463.1h0M429.5 462.1h0M428.5 462.2h0M427.9 462.2h0M427.3 461.2h0M428.1 459.4h0M426.9 458.8h0M426.8 459h0M424.3 458.9h0M422.6 458.6h0M421.8 459.9h0M420.8 459h0M420.6 459.3h0M421 458.4h0M420.2 459.2h0M420 459.2h0M419.6 459.5h0M421 459.9h0M421.8 461.2h0M421.2 459.3h0M421.8 460.4h0M422.5 460.7h0M422.9 459.6h0M423.3 458.9h0M424.2 458.7h0M424.8 458.7h0M424.9 457.9h0M426.1 458.7h0M426.9 458.3h0M426.7 456.6h0M427.9 456.7h0M428.9 456.8h0M428.2 454.9h0M428.7 453h0M429 452.9h0M426.8 452.6h0M426.6 450.8h0M429.4 448.5h0M434.4 444.7h0M436 443.4h0M445.5 445.8h0M446.7 447.8h0M453.1 448.6h0M452.1 450.3h0M446.9 454.7h0M450.9 455.3h0M447.2 460.1h0M445.7 462.3h0M440 464.3h0M436.5 463.8h0M435 464.3h0M433.2 464.7h0M428 462.7h0M424.3 460.4h0M425.2 456.7h0" stroke="#f54444" stroke-width="2.2" stroke-linecap="round" fill="none" clip-path="url(#c22)"/>
<path d="M441 441.8h0M451.9 444.7h0" stroke="#f54444" stroke-width="2.5" stroke-linecap="round" fill="none" clip-path="url(#c22)"/>
<path d="M445.6 455L448.2 453.1L451.6 451.4" stroke="#fff" stroke-width="1.3" fill="none" stroke-linecap="round" clip-path="url(#c22)"/>
<path d="M596.5 465h0M599.8 469h0M605.6 469.2h0M602.9 470.9h0M614.4 447.5h0M606.9 439.8h0M611.7 444h0M596.8 466.7h0M598.2 467.7h0M596.9 441.3h0M603.4 441.1h0M611.8 467.2h0M605.7 440.2h0M599.4 442.3h0M611.1 442.6h0M614.1 464.9h0M597.4 441.2h0M597.1 467.2h0M605 441.2h0M603.7 439.2h0M592.8 446.1h0M615 449.7h0M601.9 441h0M612.6 443.9h0M617 460.1h0M602.7 440.5h0M596.3 468h0M616.3 462.3h0M592.1 446.8h0M616.4 457.8h0M602.1 441.5h0M597.5 466.5h0M602.1 469.9h0M615.3 459.6h0M600 469.6h0M593.9 445.8h0M609.7 441.3h0M597 441.5h0M602.8 440.1h0M596.7 465.4h0M610.7 467.5h0M615.4 449.2h0M594.4 446.6h0M617 455h0M609.7 468.2h0M597.5 469.2h0M615.2 450.1h0M596.4 465.3h0M614.5 463.3h0M607.5 440.7h0M598.6 467.9h0M609.1 440.7h0M615.2 462.5h0M593.6 444.4h0M603.5 469.7h0M616.3 457.6h0M605 469.6h0M616.1 455.3h0M606.8 468.7h0M616.6 447.2h0M613.9 463.9h0M605.8 440.5h0M615.2 445.4h0M618.1 457.6h0M617 459.1h0M616.3 448.4h0M595 447.1h0M592.4 448.3h0M616.4 461.9h0M601.4 468.5h0M605.7 468.7h0M608.7 440.6h0M612.4 444.7h0M598.8 466.9h0M601.5 468.6h0M609.9 468.8h0M592.6 463.5h0M611.7 443.9h0M607.4 441.1h0M615.8 460.6h0M594.7 466.8h0M593.9 466.1h0M608.4 468h0M606.3 470.9h0M613.9 443.3h0M615.9 447.7h0M602.2 468.8h0M614.5 445.4h0M605.3 469.4h0M616.4 456h0M616.7 452.6h0M598.7 441.2h0M617 453.5h0M598.9 441.4h0M612 467.1h0M609.7 468.8h0M594 448.8h0M594.7 463.6h0M594.4 465.4h0M614.6 461.6h0M617.2 451.4h0M617.6 455h0M603 469.3h0M606.7 468.5h0M614.9 446.7h0M595.1 467.3h0M593.8 464.2h0M593 463.8h0M616.7 455h0M597.9 443.3h0M614.9 449.4h0M616.7 452.7h0M608.6 467.5h0M599.3 440.9h0M605.8 469.5h0M600.8 470.3h0M602.4 439.6h0M597.6 440.9h0M617.7 459h0M612.2 443.6h0M616.3 454.9h0M603.3 440.4h0M602.2 441.3h0M614.1 444.3h0M599.9 468.4h0M615.6 451.7h0M617 460.6h0M598.6 440.4h0M606.9 439.9h0M616.1 454.2h0M594.2 445.6h0M607.2 469.2h0M617.5 449.6h0M596.6 444.2h0M612.9 443.6h0M594.7 463h0M608.6 442.1h0M614 464.7h0M613.2 444.8h0M598.7 468.4h0M606 439.7h0M592.4 447.1h0M611.4 442.5h0M601.3 440.7h0M594.4 448.3h0M596 442h0M616.5 453.3h0M600.9 439.4h0M618.3 455.5h0M603 469.5h0M596.5 467.5h0M615.1 465.1h0M612.4 468.1h0M615.2 446.8h0M611.9 443.9h0M614.5 464.9h0M613.1 466.6h0M616.3 459.8h0M616 450.6h0M599.2 468.6h0M617.9 452.2h0M594.2 462.7h0M615.8 462.1h0M593.8 448.6h0M592.7 464h0M616 459.9h0M594.6 444h0M616.2 455.9h0M615 448.1h0M609.7 467.7h0M606 470.9h0M616.5 457.6h0M609.9 440.4h0M605.5 440.2h0M603.6 441.5h0M599.7 441.1h0M597.7 441.8h0M601.5 441.1h0M615.8 459.2h0M600.3 441.4h0M597.6 466.2h0M597.1 442.8h0M599.7 467.5h0M598 440.8h0M601.9 440.3h0M598.4 441.8h0M615.7 459.6h0M608.3 440.6h0M614.6 445.7h0M614.9 447.2h0M593.7 465.7h0M606.4 470.1h0M614.1 445.6h0M592.3 446.6h0M615 463.9h0M615.7 447.3h0M595.2 446.4h0M596 464.8h0M602.8 441.5h0M605.5 469.1h0M610.3 466.9h0M616 447.8h0M594.5 463.2h0M618.4 455h0M615.5 464.4h0M616.9 459.9h0M609.7 440.6h0M611.3 467.6h0M614.2 444.4h0M611 467.1h0M604.8 440.7h0M615.9 452.4h0M593.3 463.1h0M609.7 441.4h0M610.5 467.5h0M600.8 440.9h0M610.6 442.5h0M613 467.2h0M602.6 440.7h0M615.9 454.7h0M600.6 469.5h0M614.1 446.4h0M592 447.2h0M616.8 451.7h0M594.3 448h0M608.9 467.7h0M592.8 463.9h0M593.8 465.5h0M609.6 443h0M615.5 448.3h0M596.8 444.6h0M608.7 469.2h0M615.5 460.2h0M611.8 468.6h0M615.8 456.1h0M600 468.1h0M607 440.6h0M615.7 454.3h0M595 465.2h0M616.3 456.7h0M607.6 468.7h0M601.8 469.1h0M595.5 464.5h0M616.1 461.6h0M596.6 465.5h0M613.1 444.9h0M618.1 454h0M593.4 447.5h0M615.4 463h0M593.2 446.4h0M617.3 461h0M608.3 439.7h0M616.1 449.6h0M602.7 468.5h0M612.8 442.8h0M608.4 442.2h0M612.5 467.4h0M595.3 445.8h0M610.4 443.3h0M610.7 442.3h0M595.5 466.5h0M606.8 440.8h0M611.8 467.5h0M601.2 468.3h0M599.6 468h0M613.6 467.2h0M608.1 439.4h0M604.6 469.2h0M603.9 439.6h0M613 464.7h0M604.3 440.3h0M595.9 464.7h0M604.4 470.5h0M608.1 439.6h0M608.7 442.4h0M606.5 469.6h0M613.3 464.3h0M617 460.5h0M594.2 462.7h0M616.7 447.3h0M612.4 442.3h0M593.5 448h0M602.7 468.9h0M612.8 466.5h0M608.7 469h0M605.3 470.1h0M616.9 457.1h0M600.2 468h0M593.7 445.1h0M604.6 439.9h0M607.1 439.2h0M599 468.7h0M593.8 464.9h0M611.5 442.9h0M594 464.1h0M612.3 443.6h0M609.2 439.8h0M594.2 445.8h0M603.2 471.1h0M605.1 441.3h0M603.3 438.8h0M598.4 469.5h0M611.2 469h0M611.4 441.1h0M605 470h0M617.2 457.8h0M594.8 466.7h0M597.2 465.6h0M599 469.7h0M602.7 439.5h0M617.1 455.5h0M610.9 442.6h0M604.3 470.9h0M610.4 442.8h0M616.6 460.2h0M592.9 447h0M615.9 454.9h0M593.1 446.6h0M617.5 457.2h0M614.6 448.6h0M608.9 440.8h0M613.8 445.8h0M599 441.2h0M615.6 459.5h0M614.1 465.7h0M610.1 467.1h0M608.6 439.9h0M615.8 459.8h0M610.6 442.6h0M609.5 467.9h0M614.4 461.8h0M594.7 463.4h0M615.7 461.3h0M607.2 470.5h0M615.9 450.3h0M593.8 444.1h0M616 456.7h0M593.9 444.2h0M607.4 441.5h0M614.1 443.5h0M611.2 466.9h0M607.9 440.7h0M599.1 440.9h0M615.5 459.3h0M616.9 455.7h0M616 460h0M611 443h0M614.6 447h0M615.8 450.5h0M615.3 461.7h0M596.2 466.1h0M596.5 466.6h0M609.7 467.3h0M596.2 464.9h0M602.4 470.6h0M603.2 441.1h0M604.8 471h0M617.2 455.3h0M605.1 441.3h0M613.2 445h0M610.1 468.9h0M610.7 441.6h0M599.7 468.6h0M617.6 452.5h0M608.1 469.4h0M617.7 452.4h0M592.8 464.5h0M605.8 470.2h0M611.3 442.8h0M616.7 461.9h0M597 465.4h0M611.1 467h0M609.5 468.6h0M613.9 446.8h0M611.8 466.2h0M616.1 461.7h0M611 468.6h0M610.9 440.6h0M614.8 460.7h0M594.7 463.7h0M617.5 456.8h0M611.6 466.9h0M611.7 468.5h0M608 469.7h0M604.3 438.8h0M602.2 470.5h0M602.6 439.5h0M595.1 444.6h0M597.4 466.9h0M607.4 470.2h0M595.3 443.4h0M617 456.4h0M613.8 465.2h0M600.4 441.3h0M610.6 468.3h0M601.6 440.9h0M613.9 464.2h0M599.4 442.3h0M595.3 463.8h0M616.9 460.8h0M601.5 469.7h0M602.1 439.1h0M599.2 440.4h0M616.4 454.7h0M617.7 458.6h0M617.2 454.5h0M596.5 442.9h0M601.8 441.3h0M616.6 456h0M609.7 440.9h0M597.5 466.5h0M614.9 444.8h0M598.4 468.8h0M614.5 463.8h0M612.5 465.2h0M609.7 469.2h0M612.8 444.3h0M610.4 466.5h0M597.9 466.8h0M593.4 464.2h0M617.7 453.7h0M614.2 446.7h0M600.7 468.2h0M603.8 439.7h0M615.9 449.9h0M616.1 458.7h0M604.8 470.4h0M607.9 467.9h0M611.5 443.7h0M605.9 440h0M597.6 441.4h0M615.1 460.9h0M610.4 468.3h0M612.4 466.1h0M594.6 465.4h0M607 468.2h0M594.9 466.1h0M601.7 470.5h0M614.2 464.8h0M603.2 440.7h0M615.2 450.1h0M594.7 462.9h0M617 453.6h0M599.9 440.4h0M614.4 448.4h0M616.8 452.2h0M612.3 443.7h0M614.2 465.3h0M613.9 466.3h0M598.3 466.6h0M617.8 459.6h0M614.9 446.3h0M601.5 440.1h0M617.9 459.4h0M596 442.8h0M607.9 470h0M617.2 449.1h0M615.3 448.6h0M591.8 447.8h0M614.1 462.1h0M605.3 471h0M616 453h0M616.7 452.3h0M616.3 446.4h0M594.4 446h0M607.6 468.2h0M606.7 470h0M606.8 439.7h0M616.8 453.9h0M614 445.6h0M593.7 464.2h0M604.8 471.1h0M603.6 440.2h0M609.5 467.4h0M615.2 460.8h0M596.4 441.7h0M594.1 446.7h0M615.7 462.5h0M602.5 469.3h0M605.3 440h0M610 468.7h0M609.9 440.3h0M616.2 457.2h0M603.8 469.1h0M599.3 467.8h0M615.7 462.4h0M596.7 444.2h0M604.3 442.8h0M612.6 463.1h0M611.6 465h0M610.9 464.7h0M611.1 445.8h0M596.2 448.2h0M605.1 467.7h0M606.8 466.9h0M615.6 454.9h0M611.9 445.6h0M610.8 444.2h0M602 442.4h0M614.5 456.9h0M597.9 444.9h0M597.3 463.8h0M603.9 441.8h0M607.8 442.6h0M610.4 444.3h0M597.2 464.5h0M612.4 447.2h0M609.9 466h0M602.1 467.7h0M613.6 448.5h0M615.3 455.9h0M613 448.3h0M614.9 456.1h0M596.6 462.4h0M594.7 449.1h0M597.2 445.6h0M606.3 441.8h0M609.7 444h0M613.2 449.4h0M611.7 446.4h0M613.8 460.7h0M608.9 443.5h0M596.3 446.2h0M596.8 446.4h0M614.3 452.9h0M599.2 466.1h0M601.3 467.8h0M602 441.9h0M596.3 462.5h0M610 444.3h0M596 461.7h0M598.1 464.8h0M608.7 443.5h0M613.9 451.9h0M611.8 445.7h0M600 465.8h0M609 466.2h0M601.6 443h0M615 459.5h0M607.2 442.8h0M607.4 466.4h0M600.1 467.1h0M615.1 450.7h0M608.6 466.3h0M605.1 442.6h0M598.1 444.5h0M605.4 468.3h0M600 465.8h0M615.5 454.1h0M615.6 455.2h0M608.4 443.2h0M610.8 445.9h0M615.2 453.5h0M611.6 445.1h0M598.5 465.9h0M614.7 458.8h0M604.2 442.4h0M608.5 466.5h0M607.2 466.4h0M601.5 466.5h0M613.4 449.9h0M612.5 464.3h0M613.4 461.5h0M614.2 461.4h0M608.7 444.1h0M602.7 442.3h0" stroke="#4e4e4e" stroke-width="1.8" stroke-linecap="round" fill="none" clip-path="url(#c23)"/>
<path d="M581.6 455.6h0M589.1 449h0M588.2 454h0M588.2 458.1h0M589.1 460.9h0M593.1 458.2h0M592.2 446.5h0M591.5 462.8h0" stroke="#4e4e4e" stroke-width="2.3" stroke-linecap="round" fill="none" clip-path="url(#c23)"/>
<path d="M594.3 448.9C594.6 448.8 595.4 448.7 596.3 448.4C597.1 448.1 598.3 447.5 599.4 447.2C600.5 447 602.1 446.7 603 446.8C604 446.9 604.4 447.4 605.3 447.6C606.1 447.8 606.7 447.8 607.9 448C609.1 448.3 611.2 449.1 612.4 449C613.7 448.8 615.1 447.7 615.4 447.2C615.7 446.7 614.7 445.7 614.3 445.8C613.9 445.8 613.1 446.3 612.9 447.4C612.8 448.4 613.3 450.7 613.3 452.1C613.3 453.5 613.3 454.6 613 455.8C612.7 457.1 612.1 458.5 611.4 459.6C610.8 460.7 609.8 461.8 609.3 462.5C608.7 463.1 608.9 463.5 608.2 463.5C607.4 463.6 606 463.1 605 462.7C604 462.4 603 461.9 602.2 461.3C601.4 460.8 600.8 460.4 600.3 459.5C599.7 458.6 599.1 457 598.8 455.8C598.5 454.7 599.2 453.7 598.7 452.7C598.2 451.7 596.5 450.3 595.9 449.7C595.2 449 595 449 594.7 448.9C594.4 448.7 594.1 448.9 594.3 448.9Z" fill="#f54444" clip-path="url(#c23)"/>
<path d="M594.8 448.6h0M593.6 449.2h0M593.9 447.6h0M594.1 447.7h0M594.9 449.2h0M595.8 449.5h0M595.2 447.4h0M596.2 448.4h0M596.2 447h0M597.3 448.9h0M598.5 448.3h0M598.1 447.4h0M598.2 446h0M598.4 445.8h0M599.4 446.3h0M600 445.5h0M601.2 446.5h0M600.9 445.5h0M601.5 446.1h0M601.5 445.1h0M602.8 446.4h0M603.1 445.8h0M602.9 446.5h0M603.8 445.6h0M604.2 445.5h0M604.2 446.6h0M605.5 446h0M605.7 446h0M606.1 445.5h0M607 448.2h0M607.2 446.8h0M608.5 445.9h0M609.4 446.7h0M609.1 449.1h0M610 448.2h0M611 448h0M611.4 448.7h0M612.7 449.2h0M613.7 446.5h0M615.3 448h0M615.2 446h0M615 446.1h0M615.5 446.8h0M615.5 447.4h0M616.2 446h0M614.8 445.3h0M613 445h0M614.2 446.9h0M613.2 448.1h0M614.5 449.6h0M613 450h0M612.6 451.2h0M614.1 451.2h0M613.5 452.6h0M613.3 452.7h0M614.7 453.1h0M614.6 454.2h0M613.5 455.3h0M614.8 455.6h0M613.5 456.9h0M612.4 456.4h0M613.6 457.3h0M612.5 457.4h0M612.6 458h0M613.1 458.3h0M612.9 459.4h0M613.1 459.1h0M610.9 459.8h0M611.5 460.5h0M611.5 460.9h0M611.4 461.9h0M610 462.2h0M611 462.9h0M608.9 461.8h0M609.3 463.4h0M609.7 464.9h0M608.3 462.9h0M608 464.3h0M607.7 464.5h0M608.1 463.6h0M606.8 463.6h0M606.3 464.2h0M605.4 464.7h0M604.4 464.3h0M604.5 464.4h0M604.6 462.2h0M603.8 462.6h0M603.3 462.5h0M601.9 461.5h0M600.8 462.7h0M600.9 460h0M599.7 461.3h0M600.7 460h0M598.8 460.6h0M598.6 460.5h0M598.9 459.2h0M598.7 458.4h0M599.8 457.4h0M598.9 457.5h0M597.6 457.4h0M599 456.3h0M599.9 454.2h0M598 453.3h0M597.8 451.6h0M597.7 450.8h0M597.3 449.8h0M596 451.3h0M595.4 451.1h0M596.2 449.4h0M594.9 449.2h0M594.2 449.1h0M594.1 448.8h0M594.1 448.9h0M594.9 448.7h0M597.1 445.3h0M604.1 444.7h0M608 445.9h0M610.4 446.2h0M613.9 445.9h0M615.3 447.3h0M616.4 453.9h0M615.8 455.1h0M614.3 459.4h0M613 460.5h0M605.3 465.9h0M597 457.6h0M596.9 453.8h0M592.5 449.8h0" stroke="#f54444" stroke-width="2.2" stroke-linecap="round" fill="none" clip-path="url(#c23)"/>
<path d="M19.70 153.60H17.40M19.70 153.60V155.90M19.70 134.97H18.40M37.64 153.60V154.90M19.70 116.35H17.40M55.58 153.60V155.90M19.70 97.72H18.40M73.51 153.60V154.90M19.70 79.10H17.40M91.45 153.60V155.90M19.70 60.48H18.40M109.39 153.60V154.90M19.70 41.85H17.40M127.33 153.60V155.90M19.70 23.23H18.40M145.26 153.60V154.90M19.70 4.60H17.40M163.20 153.60V155.90" stroke="#1a1a1a" stroke-width="1.4" fill="none"/>
<path d="M19.70 4.60H163.20V153.60H19.70Z" stroke="#1a1a1a" stroke-width="1.4" fill="none" stroke-linejoin="round"/>
<path d="M191.30 153.60H189.00M191.30 153.60V155.90M191.30 134.97H190.00M209.19 153.60V154.90M191.30 116.35H189.00M227.07 153.60V155.90M191.30 97.72H190.00M244.96 153.60V154.90M191.30 79.10H189.00M262.85 153.60V155.90M191.30 60.48H190.00M280.74 153.60V154.90M191.30 41.85H189.00M298.62 153.60V155.90M191.30 23.23H190.00M316.51 153.60V154.90M191.30 4.60H189.00M334.40 153.60V155.90" stroke="#1a1a1a" stroke-width="1.4" fill="none"/>
<path d="M191.30 4.60H334.40V153.60H191.30Z" stroke="#1a1a1a" stroke-width="1.4" fill="none" stroke-linejoin="round"/>
<path d="M363.10 153.60H360.80M363.10 153.60V155.90M363.10 134.97H361.80M381.00 153.60V154.90M363.10 116.35H360.80M398.90 153.60V155.90M363.10 97.72H361.80M416.80 153.60V154.90M363.10 79.10H360.80M434.70 153.60V155.90M363.10 60.48H361.80M452.60 153.60V154.90M363.10 41.85H360.80M470.50 153.60V155.90M363.10 23.23H361.80M488.40 153.60V154.90M363.10 4.60H360.80M506.30 153.60V155.90" stroke="#1a1a1a" stroke-width="1.4" fill="none"/>
<path d="M363.10 4.60H506.30V153.60H363.10Z" stroke="#1a1a1a" stroke-width="1.4" fill="none" stroke-linejoin="round"/>
<path d="M534.20 153.60H531.90M534.20 153.60V155.90M534.20 134.97H532.90M552.14 153.60V154.90M534.20 116.35H531.90M570.08 153.60V155.90M534.20 97.72H532.90M588.01 153.60V154.90M534.20 79.10H531.90M605.95 153.60V155.90M534.20 60.48H532.90M623.89 153.60V154.90M534.20 41.85H531.90M641.83 153.60V155.90M534.20 23.23H532.90M659.76 153.60V154.90M534.20 4.60H531.90M677.70 153.60V155.90" stroke="#1a1a1a" stroke-width="1.4" fill="none"/>
<path d="M534.20 4.60H677.70V153.60H534.20Z" stroke="#1a1a1a" stroke-width="1.4" fill="none" stroke-linejoin="round"/>
<path d="M19.70 341.90H17.40M19.70 341.90V344.20M19.70 323.29H18.40M37.64 341.90V343.20M19.70 304.67H17.40M55.58 341.90V344.20M19.70 286.06H18.40M73.51 341.90V343.20M19.70 267.45H17.40M91.45 341.90V344.20M19.70 248.84H18.40M109.39 341.90V343.20M19.70 230.22H17.40M127.33 341.90V344.20M19.70 211.61H18.40M145.26 341.90V343.20M19.70 193.00H17.40M163.20 341.90V344.20" stroke="#1a1a1a" stroke-width="1.4" fill="none"/>
<path d="M19.70 193.00H163.20V341.90H19.70Z" stroke="#1a1a1a" stroke-width="1.4" fill="none" stroke-linejoin="round"/>
<path d="M191.30 341.90H189.00M191.30 341.90V344.20M191.30 323.29H190.00M209.19 341.90V343.20M191.30 304.67H189.00M227.07 341.90V344.20M191.30 286.06H190.00M244.96 341.90V343.20M191.30 267.45H189.00M262.85 341.90V344.20M191.30 248.84H190.00M280.74 341.90V343.20M191.30 230.22H189.00M298.62 341.90V344.20M191.30 211.61H190.00M316.51 341.90V343.20M191.30 193.00H189.00M334.40 341.90V344.20" stroke="#1a1a1a" stroke-width="1.4" fill="none"/>
<path d="M191.30 193.00H334.40V341.90H191.30Z" stroke="#1a1a1a" stroke-width="1.4" fill="none" stroke-linejoin="round"/>
<path d="M363.10 341.90H360.80M363.10 341.90V344.20M363.10 323.29H361.80M381.00 341.90V343.20M363.10 304.67H360.80M398.90 341.90V344.20M363.10 286.06H361.80M416.80 341.90V343.20M363.10 267.45H360.80M434.70 341.90V344.20M363.10 248.84H361.80M452.60 341.90V343.20M363.10 230.22H360.80M470.50 341.90V344.20M363.10 211.61H361.80M488.40 341.90V343.20M363.10 193.00H360.80M506.30 341.90V344.20" stroke="#1a1a1a" stroke-width="1.4" fill="none"/>
<path d="M363.10 193.00H506.30V341.90H363.10Z" stroke="#1a1a1a" stroke-width="1.4" fill="none" stroke-linejoin="round"/>
<path d="M534.20 341.90H531.90M534.20 341.90V344.20M534.20 323.29H532.90M552.14 341.90V343.20M534.20 304.67H531.90M570.08 341.90V344.20M534.20 286.06H532.90M588.01 341.90V343.20M534.20 267.45H531.90M605.95 341.90V344.20M534.20 248.84H532.90M623.89 341.90V343.20M534.20 230.22H531.90M641.83 341.90V344.20M534.20 211.61H532.90M659.76 341.90V343.20M534.20 193.00H531.90M677.70 341.90V344.20" stroke="#1a1a1a" stroke-width="1.4" fill="none"/>
<path d="M534.20 193.00H677.70V341.90H534.20Z" stroke="#1a1a1a" stroke-width="1.4" fill="none" stroke-linejoin="round"/>
<path d="M19.70 530.00H17.40M19.70 530.00V532.30M19.70 511.38H18.40M37.64 530.00V531.30M19.70 492.75H17.40M55.58 530.00V532.30M19.70 474.12H18.40M73.51 530.00V531.30M19.70 455.50H17.40M91.45 530.00V532.30M19.70 436.88H18.40M109.39 530.00V531.30M19.70 418.25H17.40M127.33 530.00V532.30M19.70 399.62H18.40M145.26 530.00V531.30M19.70 381.00H17.40M163.20 530.00V532.30" stroke="#1a1a1a" stroke-width="1.4" fill="none"/>
<path d="M19.70 381.00H163.20V530.00H19.70Z" stroke="#1a1a1a" stroke-width="1.4" fill="none" stroke-linejoin="round"/>
<path d="M191.30 530.00H189.00M191.30 530.00V532.30M191.30 511.38H190.00M209.19 530.00V531.30M191.30 492.75H189.00M227.07 530.00V532.30M191.30 474.12H190.00M244.96 530.00V531.30M191.30 455.50H189.00M262.85 530.00V532.30M191.30 436.88H190.00M280.74 530.00V531.30M191.30 418.25H189.00M298.62 530.00V532.30M191.30 399.62H190.00M316.51 530.00V531.30M191.30 381.00H189.00M334.40 530.00V532.30" stroke="#1a1a1a" stroke-width="1.4" fill="none"/>
<path d="M191.30 381.00H334.40V530.00H191.30Z" stroke="#1a1a1a" stroke-width="1.4" fill="none" stroke-linejoin="round"/>
<path d="M363.10 530.00H360.80M363.10 530.00V532.30M363.10 511.38H361.80M381.00 530.00V531.30M363.10 492.75H360.80M398.90 530.00V532.30M363.10 474.12H361.80M416.80 530.00V531.30M363.10 455.50H360.80M434.70 530.00V532.30M363.10 436.88H361.80M452.60 530.00V531.30M363.10 418.25H360.80M470.50 530.00V532.30M363.10 399.62H361.80M488.40 530.00V531.30M363.10 381.00H360.80M506.30 530.00V532.30" stroke="#1a1a1a" stroke-width="1.4" fill="none"/>
<path d="M363.10 381.00H506.30V530.00H363.10Z" stroke="#1a1a1a" stroke-width="1.4" fill="none" stroke-linejoin="round"/>
<path d="M534.20 530.00H531.90M534.20 530.00V532.30M534.20 511.38H532.90M552.14 530.00V531.30M534.20 492.75H531.90M570.08 530.00V532.30M534.20 474.12H532.90M588.01 530.00V531.30M534.20 455.50H531.90M605.95 530.00V532.30M534.20 436.88H532.90M623.89 530.00V531.30M534.20 418.25H531.90M641.83 530.00V532.30M534.20 399.62H532.90M659.76 530.00V531.30M534.20 381.00H531.90M677.70 530.00V532.30" stroke="#1a1a1a" stroke-width="1.4" fill="none"/>
<path d="M534.20 381.00H677.70V530.00H534.20Z" stroke="#1a1a1a" stroke-width="1.4" fill="none" stroke-linejoin="round"/>
<text x="15.90" y="7.80" class="tk" text-anchor="end">10</text>
<text x="15.90" y="45.05" class="tk" text-anchor="end">5</text>
<text x="15.90" y="82.30" class="tk" text-anchor="end">0</text>
<text x="15.90" y="119.55" class="tk" text-anchor="end">-5</text>
<text x="15.90" y="156.80" class="tk" text-anchor="end">-10</text>
<text x="92.30" y="148.80" class="lb" text-anchor="middle">0.9k training iterations</text>
<rect x="88.40" y="7.30" width="71.0" height="27.0" fill="#fff" stroke="#9a9a9a" stroke-width="0.9"/>
<circle cx="101.50" cy="14.50" r="1.2" fill="#000"/>
<circle cx="101.50" cy="27.20" r="1.2" fill="#ff0000"/>
<text x="116.40" y="18.10" class="lg">Training</text>
<text x="116.40" y="30.80" class="lg">Generated</text>
<text x="187.50" y="7.80" class="tk" text-anchor="end">10</text>
<text x="187.50" y="45.05" class="tk" text-anchor="end">5</text>
<text x="187.50" y="82.30" class="tk" text-anchor="end">0</text>
<text x="187.50" y="119.55" class="tk" text-anchor="end">-5</text>
<text x="187.50" y="156.80" class="tk" text-anchor="end">-10</text>
<text x="263.50" y="148.80" class="lb" text-anchor="middle">14.34k training iterations</text>
<rect x="261.40" y="7.20" width="71.0" height="27.0" fill="#fff" stroke="#9a9a9a" stroke-width="0.9"/>
<circle cx="274.50" cy="14.40" r="1.2" fill="#000"/>
<circle cx="274.50" cy="27.10" r="1.2" fill="#ff0000"/>
<text x="289.40" y="18.00" class="lg">Training</text>
<text x="289.40" y="30.70" class="lg">Generated</text>
<text x="359.30" y="7.80" class="tk" text-anchor="end">10</text>
<text x="359.30" y="45.05" class="tk" text-anchor="end">5</text>
<text x="359.30" y="82.30" class="tk" text-anchor="end">0</text>
<text x="359.30" y="119.55" class="tk" text-anchor="end">-5</text>
<text x="359.30" y="156.80" class="tk" text-anchor="end">-10</text>
<text x="435.40" y="148.80" class="lb" text-anchor="middle">21.96k training iterations</text>
<rect x="432.40" y="7.20" width="71.0" height="27.0" fill="#fff" stroke="#9a9a9a" stroke-width="0.9"/>
<circle cx="445.50" cy="14.40" r="1.2" fill="#4e4e4e"/>
<circle cx="445.50" cy="27.10" r="1.2" fill="#f54444"/>
<text x="460.40" y="18.00" class="lg">Training</text>
<text x="460.40" y="30.70" class="lg">Generated</text>
<text x="530.40" y="7.80" class="tk" text-anchor="end">10</text>
<text x="530.40" y="45.05" class="tk" text-anchor="end">5</text>
<text x="530.40" y="82.30" class="tk" text-anchor="end">0</text>
<text x="530.40" y="119.55" class="tk" text-anchor="end">-5</text>
<text x="530.40" y="156.80" class="tk" text-anchor="end">-10</text>
<text x="606.20" y="148.80" class="lb" text-anchor="middle">27.48k training iterations</text>
<rect x="603.30" y="7.30" width="71.0" height="27.0" fill="#fff" stroke="#9a9a9a" stroke-width="0.9"/>
<circle cx="616.40" cy="14.50" r="1.2" fill="#4e4e4e"/>
<circle cx="616.40" cy="27.20" r="1.2" fill="#f54444"/>
<text x="631.30" y="18.10" class="lg">Training</text>
<text x="631.30" y="30.80" class="lg">Generated</text>
<text x="15.90" y="196.20" class="tk" text-anchor="end">10</text>
<text x="15.90" y="233.42" class="tk" text-anchor="end">5</text>
<text x="15.90" y="270.65" class="tk" text-anchor="end">0</text>
<text x="15.90" y="307.87" class="tk" text-anchor="end">-5</text>
<text x="15.90" y="345.10" class="tk" text-anchor="end">-10</text>
<text x="90.70" y="337.00" class="lb" text-anchor="middle">4.5k training iterations</text>
<rect x="22.40" y="195.40" width="71.0" height="27.0" fill="#fff" stroke="#9a9a9a" stroke-width="0.9"/>
<circle cx="35.50" cy="202.60" r="1.2" fill="#4e4e4e"/>
<circle cx="35.50" cy="215.30" r="1.2" fill="#f54444"/>
<text x="50.40" y="206.20" class="lg">Training</text>
<text x="50.40" y="218.90" class="lg">Generated</text>
<text x="187.50" y="196.20" class="tk" text-anchor="end">10</text>
<text x="187.50" y="233.42" class="tk" text-anchor="end">5</text>
<text x="187.50" y="270.65" class="tk" text-anchor="end">0</text>
<text x="187.50" y="307.87" class="tk" text-anchor="end">-5</text>
<text x="187.50" y="345.10" class="tk" text-anchor="end">-10</text>
<text x="263.50" y="337.00" class="lb" text-anchor="middle">13.32k training iterations</text>
<rect x="261.20" y="195.40" width="71.0" height="27.0" fill="#fff" stroke="#9a9a9a" stroke-width="0.9"/>
<circle cx="274.30" cy="202.60" r="1.2" fill="#4e4e4e"/>
<circle cx="274.30" cy="215.30" r="1.2" fill="#f54444"/>
<text x="289.20" y="206.20" class="lg">Training</text>
<text x="289.20" y="218.90" class="lg">Generated</text>
<text x="359.30" y="196.20" class="tk" text-anchor="end">10</text>
<text x="359.30" y="233.42" class="tk" text-anchor="end">5</text>
<text x="359.30" y="270.65" class="tk" text-anchor="end">0</text>
<text x="359.30" y="307.87" class="tk" text-anchor="end">-5</text>
<text x="359.30" y="345.10" class="tk" text-anchor="end">-10</text>
<text x="436.60" y="337.00" class="lb" text-anchor="middle">21.24k training iterations</text>
<rect x="432.20" y="195.50" width="71.0" height="27.0" fill="#fff" stroke="#9a9a9a" stroke-width="0.9"/>
<circle cx="445.30" cy="202.70" r="1.2" fill="#4e4e4e"/>
<circle cx="445.30" cy="215.40" r="1.2" fill="#f54444"/>
<text x="460.20" y="206.30" class="lg">Training</text>
<text x="460.20" y="219.00" class="lg">Generated</text>
<text x="530.40" y="196.20" class="tk" text-anchor="end">10</text>
<text x="530.40" y="233.42" class="tk" text-anchor="end">5</text>
<text x="530.40" y="270.65" class="tk" text-anchor="end">0</text>
<text x="530.40" y="307.87" class="tk" text-anchor="end">-5</text>
<text x="530.40" y="345.10" class="tk" text-anchor="end">-10</text>
<text x="606.80" y="337.00" class="lb" text-anchor="middle">27.96k training iterations</text>
<rect x="603.40" y="195.40" width="71.0" height="27.0" fill="#fff" stroke="#9a9a9a" stroke-width="0.9"/>
<circle cx="616.50" cy="202.60" r="1.2" fill="#4e4e4e"/>
<circle cx="616.50" cy="215.30" r="1.2" fill="#f54444"/>
<text x="631.40" y="206.20" class="lg">Training</text>
<text x="631.40" y="218.90" class="lg">Generated</text>
<text x="15.90" y="384.20" class="tk" text-anchor="end">10</text>
<text x="15.90" y="421.45" class="tk" text-anchor="end">5</text>
<text x="15.90" y="458.70" class="tk" text-anchor="end">0</text>
<text x="15.90" y="495.95" class="tk" text-anchor="end">-5</text>
<text x="15.90" y="533.20" class="tk" text-anchor="end">-10</text>
<text x="19.70" y="541.90" class="tk" text-anchor="middle">-10</text>
<text x="55.58" y="541.90" class="tk" text-anchor="middle">-5</text>
<text x="91.45" y="541.90" class="tk" text-anchor="middle">0</text>
<text x="127.33" y="541.90" class="tk" text-anchor="middle">5</text>
<text x="163.20" y="541.90" class="tk" text-anchor="middle">10</text>
<text x="91.00" y="524.60" class="lb" text-anchor="middle">4.2k training iterations</text>
<rect x="89.30" y="485.40" width="71.0" height="27.0" fill="#fff" stroke="#9a9a9a" stroke-width="0.9"/>
<circle cx="102.40" cy="492.60" r="1.2" fill="#4e4e4e"/>
<circle cx="102.40" cy="505.30" r="1.2" fill="#f54444"/>
<text x="117.30" y="496.20" class="lg">Training</text>
<text x="117.30" y="508.90" class="lg">Generated</text>
<text x="187.50" y="384.20" class="tk" text-anchor="end">10</text>
<text x="187.50" y="421.45" class="tk" text-anchor="end">5</text>
<text x="187.50" y="458.70" class="tk" text-anchor="end">0</text>
<text x="187.50" y="495.95" class="tk" text-anchor="end">-5</text>
<text x="187.50" y="533.20" class="tk" text-anchor="end">-10</text>
<text x="191.30" y="541.90" class="tk" text-anchor="middle">-10</text>
<text x="227.07" y="541.90" class="tk" text-anchor="middle">-5</text>
<text x="262.85" y="541.90" class="tk" text-anchor="middle">0</text>
<text x="298.62" y="541.90" class="tk" text-anchor="middle">5</text>
<text x="334.40" y="541.90" class="tk" text-anchor="middle">10</text>
<text x="265.20" y="524.60" class="lb" text-anchor="middle">10.68k training iterations</text>
<rect x="261.20" y="383.40" width="71.0" height="27.0" fill="#fff" stroke="#9a9a9a" stroke-width="0.9"/>
<circle cx="274.30" cy="390.60" r="1.2" fill="#4e4e4e"/>
<circle cx="274.30" cy="403.30" r="1.2" fill="#f54444"/>
<text x="289.20" y="394.20" class="lg">Training</text>
<text x="289.20" y="406.90" class="lg">Generated</text>
<text x="359.30" y="384.20" class="tk" text-anchor="end">10</text>
<text x="359.30" y="421.45" class="tk" text-anchor="end">5</text>
<text x="359.30" y="458.70" class="tk" text-anchor="end">0</text>
<text x="359.30" y="495.95" class="tk" text-anchor="end">-5</text>
<text x="359.30" y="533.20" class="tk" text-anchor="end">-10</text>
<text x="363.10" y="541.90" class="tk" text-anchor="middle">-10</text>
<text x="398.90" y="541.90" class="tk" text-anchor="middle">-5</text>
<text x="434.70" y="541.90" class="tk" text-anchor="middle">0</text>
<text x="470.50" y="541.90" class="tk" text-anchor="middle">5</text>
<text x="506.30" y="541.90" class="tk" text-anchor="middle">10</text>
<text x="433.90" y="524.60" class="lb" text-anchor="middle">20.04k training iterations</text>
<rect x="432.60" y="383.40" width="71.0" height="27.0" fill="#fff" stroke="#9a9a9a" stroke-width="0.9"/>
<circle cx="445.70" cy="390.60" r="1.2" fill="#4e4e4e"/>
<circle cx="445.70" cy="403.30" r="1.2" fill="#f54444"/>
<text x="460.60" y="394.20" class="lg">Training</text>
<text x="460.60" y="406.90" class="lg">Generated</text>
<text x="530.40" y="384.20" class="tk" text-anchor="end">10</text>
<text x="530.40" y="421.45" class="tk" text-anchor="end">5</text>
<text x="530.40" y="458.70" class="tk" text-anchor="end">0</text>
<text x="530.40" y="495.95" class="tk" text-anchor="end">-5</text>
<text x="530.40" y="533.20" class="tk" text-anchor="end">-10</text>
<text x="534.20" y="541.90" class="tk" text-anchor="middle">-10</text>
<text x="570.08" y="541.90" class="tk" text-anchor="middle">-5</text>
<text x="605.95" y="541.90" class="tk" text-anchor="middle">0</text>
<text x="641.83" y="541.90" class="tk" text-anchor="middle">5</text>
<text x="677.70" y="541.90" class="tk" text-anchor="middle">10</text>
<text x="606.80" y="524.60" class="lb" text-anchor="middle">28.56k training iterations</text>
<rect x="603.80" y="383.40" width="71.0" height="27.0" fill="#fff" stroke="#9a9a9a" stroke-width="0.9"/>
<circle cx="616.90" cy="390.60" r="1.2" fill="#4e4e4e"/>
<circle cx="616.90" cy="403.30" r="1.2" fill="#f54444"/>
<text x="631.80" y="394.20" class="lg">Training</text>
<text x="631.80" y="406.90" class="lg">Generated</text>
<text x="347.2" y="177.0" class="cap" text-anchor="middle">(a) Group 1 training procedure</text>
<text x="347.2" y="364.0" class="cap" text-anchor="middle">(b) Group 2 training procedure</text>
<text x="347.2" y="561.6" class="cap" text-anchor="middle">(c) Group 3 training procedure</text>
</svg></body></html>
